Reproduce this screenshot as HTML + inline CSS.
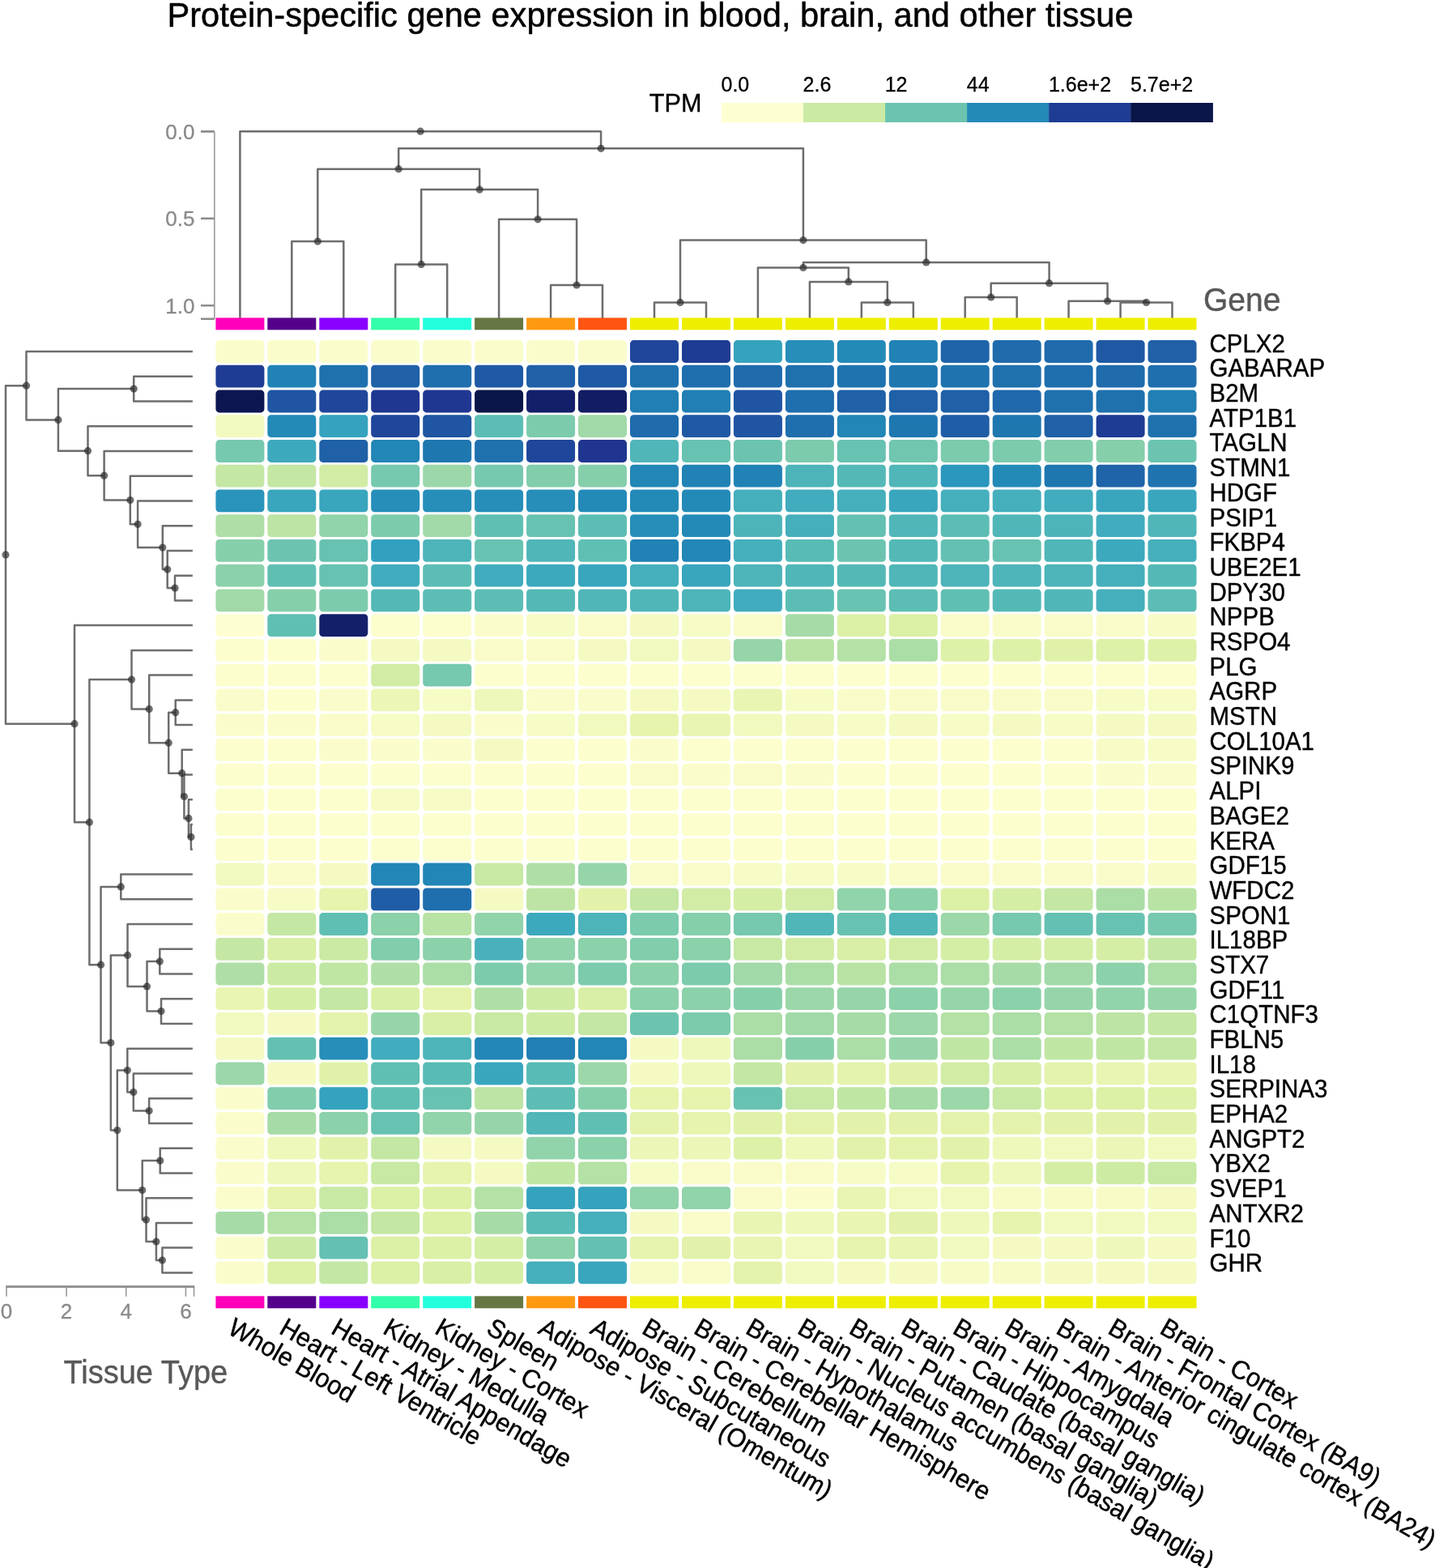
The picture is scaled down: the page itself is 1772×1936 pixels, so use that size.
<!DOCTYPE html><html><head><meta charset="utf-8"><title>Protein-specific gene expression</title><style>
html,body{margin:0;padding:0;background:#fff;width:1772px;height:1936px;overflow:hidden}
svg{display:block;font-family:"Liberation Sans",Arial,Helvetica,sans-serif}
.dl{fill:none;stroke:#6d6d6d;stroke-width:2.5;stroke-linecap:square;stroke-linejoin:round}
.ax{fill:none;stroke:#999;stroke-width:1.6}.axh{fill:none;stroke:#8c8c8c;stroke-width:2.6}
.dot{fill:#2a2a2a;fill-opacity:0.68}
.tk{fill:#8a8a8a;font-size:26px;stroke:#8a8a8a;stroke-width:0.3px}
.gl{fill:#000;font-size:29.5px;stroke:#000;stroke-width:0.4px}
.cl{fill:#000;font-size:30.8px;stroke:#000;stroke-width:0.4px}
</style></head><body>
<div id="w"><svg width="1772" height="1936" viewBox="0 0 1772 1936">
<text transform="translate(206.5,32.6) scale(1,1.035)" style="font-size:41.6px;stroke:#000;stroke-width:0.5px" fill="#000">Protein-specific gene expression in blood, brain, and other tissue</text>
<text x="801.8" y="138.3" style="font-size:30.6px;stroke:#000;stroke-width:0.4px" fill="#000">TPM</text>
<rect x="890.8" y="127" width="101.6" height="24" fill="#feffd1"/>
<text x="890.5" y="113.2" style="font-size:25px;stroke:#000;stroke-width:0.3px" fill="#000">0.0</text>
<rect x="991.9" y="127" width="101.6" height="24" fill="#cbeaa4"/>
<text x="991.6" y="113.2" style="font-size:25px;stroke:#000;stroke-width:0.3px" fill="#000">2.6</text>
<rect x="1093.0" y="127" width="101.6" height="24" fill="#6cc4b0"/>
<text x="1092.7" y="113.2" style="font-size:25px;stroke:#000;stroke-width:0.3px" fill="#000">12</text>
<rect x="1194.1" y="127" width="101.6" height="24" fill="#238ab8"/>
<text x="1193.8" y="113.2" style="font-size:25px;stroke:#000;stroke-width:0.3px" fill="#000">44</text>
<rect x="1295.2" y="127" width="101.6" height="24" fill="#1f3c94"/>
<text x="1294.9" y="113.2" style="font-size:25px;stroke:#000;stroke-width:0.3px" fill="#000">1.6e+2</text>
<rect x="1396.3" y="127" width="101.6" height="24" fill="#0a1548"/>
<text x="1396.0" y="113.2" style="font-size:25px;stroke:#000;stroke-width:0.3px" fill="#000">5.7e+2</text>
<path class="ax" d="M264.8,162.4V393.8"/>
<path class="axh" d="M248,162.4H264.8 M248,393.8H264.8 M248,269.8H264.8 M248,377.3H264.8"/>
<text class="tk" x="240.5" y="171.6" text-anchor="end">0.0</text>
<text class="tk" x="240.5" y="279.0" text-anchor="end">0.5</text>
<text class="tk" x="240.5" y="386.5" text-anchor="end">1.0</text>
<path class="dl" d="M1383.6,392.4V373.4H1447.5V392.4 M1319.6,392.4V371.8H1415.5V373.4 M1191.7,392.4V367.0H1255.7V392.4 M1223.7,367.0V349.7H1367.6V371.8 M1063.8,392.4V373.4H1127.8V392.4 M999.9,392.4V347.9H1095.8V373.4 M935.9,392.4V330.5H1047.8V347.9 M991.9,330.5V323.9H1295.6V349.7 M808.0,392.4V373.4H872.0V392.4 M840.0,373.4V296.6H1143.7V323.9 M680.1,392.4V352.0H744.0V392.4 M616.1,392.4V270.8H712.1V352.0 M488.2,392.4V326.4H552.2V392.4 M520.2,326.4V234.1H664.1V270.8 M360.3,392.4V298.1H424.3V392.4 M392.3,298.1V208.7H592.2V234.1 M492.2,208.7V183.3H991.9V296.6 M296.4,392.4V162.2H742.1V183.3"/>
<path class="dl" d="M236.6,710.7H216.0V741.4H236.6 M236.6,679.9H206.7V726.0H216.0 M236.6,649.2H200.8V703.0H206.7 M236.6,618.4H170.1V676.1H200.8 M236.6,587.7H160.8V647.3H170.1 M236.6,557.0H128.6V617.5H160.8 M236.6,526.2H108.5V587.2H128.6 M236.6,464.7H165.2V495.5H236.6 M165.2,480.1H71.9V556.7H108.5 M236.6,434.0H32.5V518.4H71.9 M236.6,1018.1H235.9V1048.8H236.6 M236.6,987.3H232.9V1033.4H235.9 M236.6,956.6H227.4V1010.4H232.9 M236.6,925.8H224.7V983.5H227.4 M236.6,864.4H216.7V895.1H236.6 M216.7,879.7H208.2V954.7H224.7 M236.6,833.6H184.2V917.2H208.2 M236.6,802.9H162.5V875.4H184.2 M236.6,1079.5H149.3V1110.3H236.6 M236.6,1171.8H197.3V1202.5H236.6 M236.6,1233.2H199.0V1264.0H236.6 M197.3,1187.1H181.5V1248.6H199.0 M236.6,1141.0H157.5V1217.9H181.5 M236.6,1356.2H184.1V1386.9H236.6 M236.6,1325.5H164.8V1371.6H184.1 M236.6,1294.7H157.3V1348.5H164.8 M236.6,1417.7H197.7V1448.4H236.6 M236.6,1540.6H200.4V1571.4H236.6 M236.6,1509.9H192.9V1556.0H200.4 M236.6,1479.2H180.5V1533.0H192.9 M197.7,1433.1H175.7V1506.1H180.5 M157.3,1321.6H144.8V1469.6H175.7 M157.5,1179.4H136.8V1395.6H144.8 M149.3,1094.9H124.5V1287.5H136.8 M162.5,839.1H110.4V1191.2H124.5 M236.6,772.1H92.0V1015.2H110.4 M32.5,476.2H7.0V893.7H92.0"/>
<circle class="dot" cx="1415.5" cy="373.4" r="4.6"/>
<circle class="dot" cx="1367.6" cy="371.8" r="4.6"/>
<circle class="dot" cx="1223.7" cy="367.0" r="4.6"/>
<circle class="dot" cx="1295.6" cy="349.7" r="4.6"/>
<circle class="dot" cx="1095.8" cy="373.4" r="4.6"/>
<circle class="dot" cx="1047.8" cy="347.9" r="4.6"/>
<circle class="dot" cx="991.9" cy="330.5" r="4.6"/>
<circle class="dot" cx="1143.7" cy="323.9" r="4.6"/>
<circle class="dot" cx="840.0" cy="373.4" r="4.6"/>
<circle class="dot" cx="991.9" cy="296.6" r="4.6"/>
<circle class="dot" cx="712.1" cy="352.0" r="4.6"/>
<circle class="dot" cx="664.1" cy="270.8" r="4.6"/>
<circle class="dot" cx="520.2" cy="326.4" r="4.6"/>
<circle class="dot" cx="592.2" cy="234.1" r="4.6"/>
<circle class="dot" cx="392.3" cy="298.1" r="4.6"/>
<circle class="dot" cx="492.2" cy="208.7" r="4.6"/>
<circle class="dot" cx="742.1" cy="183.3" r="4.6"/>
<circle class="dot" cx="519.2" cy="162.2" r="4.6"/>
<circle class="dot" cx="216.0" cy="726.0" r="4.6"/>
<circle class="dot" cx="206.7" cy="703.0" r="4.6"/>
<circle class="dot" cx="200.8" cy="676.1" r="4.6"/>
<circle class="dot" cx="170.1" cy="647.3" r="4.6"/>
<circle class="dot" cx="160.8" cy="617.5" r="4.6"/>
<circle class="dot" cx="128.6" cy="587.2" r="4.6"/>
<circle class="dot" cx="108.5" cy="556.7" r="4.6"/>
<circle class="dot" cx="165.2" cy="480.1" r="4.6"/>
<circle class="dot" cx="71.9" cy="518.4" r="4.6"/>
<circle class="dot" cx="32.5" cy="476.2" r="4.6"/>
<circle class="dot" cx="235.9" cy="1033.4" r="4.6"/>
<circle class="dot" cx="232.9" cy="1010.4" r="4.6"/>
<circle class="dot" cx="227.4" cy="983.5" r="4.6"/>
<circle class="dot" cx="224.7" cy="954.7" r="4.6"/>
<circle class="dot" cx="216.7" cy="879.7" r="4.6"/>
<circle class="dot" cx="208.2" cy="917.2" r="4.6"/>
<circle class="dot" cx="184.2" cy="875.4" r="4.6"/>
<circle class="dot" cx="162.5" cy="839.1" r="4.6"/>
<circle class="dot" cx="149.3" cy="1094.9" r="4.6"/>
<circle class="dot" cx="197.3" cy="1187.1" r="4.6"/>
<circle class="dot" cx="199.0" cy="1248.6" r="4.6"/>
<circle class="dot" cx="181.5" cy="1217.9" r="4.6"/>
<circle class="dot" cx="157.5" cy="1179.4" r="4.6"/>
<circle class="dot" cx="184.1" cy="1371.6" r="4.6"/>
<circle class="dot" cx="164.8" cy="1348.5" r="4.6"/>
<circle class="dot" cx="157.3" cy="1321.6" r="4.6"/>
<circle class="dot" cx="197.7" cy="1433.1" r="4.6"/>
<circle class="dot" cx="200.4" cy="1556.0" r="4.6"/>
<circle class="dot" cx="192.9" cy="1533.0" r="4.6"/>
<circle class="dot" cx="180.5" cy="1506.1" r="4.6"/>
<circle class="dot" cx="175.7" cy="1469.6" r="4.6"/>
<circle class="dot" cx="144.8" cy="1395.6" r="4.6"/>
<circle class="dot" cx="136.8" cy="1287.5" r="4.6"/>
<circle class="dot" cx="124.5" cy="1191.2" r="4.6"/>
<circle class="dot" cx="110.4" cy="1015.2" r="4.6"/>
<circle class="dot" cx="92.0" cy="893.7" r="4.6"/>
<circle class="dot" cx="7.0" cy="684.9" r="4.6"/>
<path class="ax" d="M8,1600.8V1588.5 M239.5,1588.5V1600.8 M82.1,1588.5V1600.8 M155.7,1588.5V1600.8 M229.4,1588.5V1600.8"/>
<path class="axh" d="M7.2,1588.6H240.3"/>
<text class="tk" x="8" y="1628" text-anchor="middle">0</text>
<text class="tk" x="82.1" y="1628" text-anchor="middle">2</text>
<text class="tk" x="155.7" y="1628" text-anchor="middle">4</text>
<text class="tk" x="229.4" y="1628" text-anchor="middle">6</text>
<text transform="translate(1486,383.7) scale(1,1.06)" style="font-size:39px;stroke:#58585a;stroke-width:0.4px" fill="#58585a">Gene</text>
<text transform="translate(78.5,1708) scale(1,1.05)" style="font-size:38px;stroke:#58585a;stroke-width:0.4px" fill="#58585a">Tissue Type</text>
<rect x="266.4" y="392.4" width="60.0" height="14.9" fill="#FF00BB"/>
<rect x="266.4" y="1600.3" width="60.0" height="15" fill="#FF00BB"/>
<rect x="330.3" y="392.4" width="60.0" height="14.9" fill="#55008A"/>
<rect x="330.3" y="1600.3" width="60.0" height="15" fill="#55008A"/>
<rect x="394.3" y="392.4" width="60.0" height="14.9" fill="#8800FF"/>
<rect x="394.3" y="1600.3" width="60.0" height="15" fill="#8800FF"/>
<rect x="458.2" y="392.4" width="60.0" height="14.9" fill="#33FFAA"/>
<rect x="458.2" y="1600.3" width="60.0" height="15" fill="#33FFAA"/>
<rect x="522.2" y="392.4" width="60.0" height="14.9" fill="#22FFDD"/>
<rect x="522.2" y="1600.3" width="60.0" height="15" fill="#22FFDD"/>
<rect x="586.1" y="392.4" width="60.0" height="14.9" fill="#667744"/>
<rect x="586.1" y="1600.3" width="60.0" height="15" fill="#667744"/>
<rect x="650.1" y="392.4" width="60.0" height="14.9" fill="#FF9911"/>
<rect x="650.1" y="1600.3" width="60.0" height="15" fill="#FF9911"/>
<rect x="714.0" y="392.4" width="60.0" height="14.9" fill="#FF5511"/>
<rect x="714.0" y="1600.3" width="60.0" height="15" fill="#FF5511"/>
<rect x="778.0" y="392.4" width="60.0" height="14.9" fill="#EEEE00"/>
<rect x="778.0" y="1600.3" width="60.0" height="15" fill="#EEEE00"/>
<rect x="842.0" y="392.4" width="60.0" height="14.9" fill="#EEEE00"/>
<rect x="842.0" y="1600.3" width="60.0" height="15" fill="#EEEE00"/>
<rect x="905.9" y="392.4" width="60.0" height="14.9" fill="#EEEE00"/>
<rect x="905.9" y="1600.3" width="60.0" height="15" fill="#EEEE00"/>
<rect x="969.9" y="392.4" width="60.0" height="14.9" fill="#EEEE00"/>
<rect x="969.9" y="1600.3" width="60.0" height="15" fill="#EEEE00"/>
<rect x="1033.8" y="392.4" width="60.0" height="14.9" fill="#EEEE00"/>
<rect x="1033.8" y="1600.3" width="60.0" height="15" fill="#EEEE00"/>
<rect x="1097.8" y="392.4" width="60.0" height="14.9" fill="#EEEE00"/>
<rect x="1097.8" y="1600.3" width="60.0" height="15" fill="#EEEE00"/>
<rect x="1161.7" y="392.4" width="60.0" height="14.9" fill="#EEEE00"/>
<rect x="1161.7" y="1600.3" width="60.0" height="15" fill="#EEEE00"/>
<rect x="1225.7" y="392.4" width="60.0" height="14.9" fill="#EEEE00"/>
<rect x="1225.7" y="1600.3" width="60.0" height="15" fill="#EEEE00"/>
<rect x="1289.6" y="392.4" width="60.0" height="14.9" fill="#EEEE00"/>
<rect x="1289.6" y="1600.3" width="60.0" height="15" fill="#EEEE00"/>
<rect x="1353.6" y="392.4" width="60.0" height="14.9" fill="#EEEE00"/>
<rect x="1353.6" y="1600.3" width="60.0" height="15" fill="#EEEE00"/>
<rect x="1417.5" y="392.4" width="60.0" height="14.9" fill="#EEEE00"/>
<rect x="1417.5" y="1600.3" width="60.0" height="15" fill="#EEEE00"/>
<rect x="266.4" y="420.1" width="60.0" height="27.8" rx="4.5" fill="#fafdcb"/>
<rect x="330.3" y="420.1" width="60.0" height="27.8" rx="4.5" fill="#fafdcb"/>
<rect x="394.3" y="420.1" width="60.0" height="27.8" rx="4.5" fill="#fafdcb"/>
<rect x="458.2" y="420.1" width="60.0" height="27.8" rx="4.5" fill="#fafdcb"/>
<rect x="522.2" y="420.1" width="60.0" height="27.8" rx="4.5" fill="#fafdcb"/>
<rect x="586.1" y="420.1" width="60.0" height="27.8" rx="4.5" fill="#fafdcb"/>
<rect x="650.1" y="420.1" width="60.0" height="27.8" rx="4.5" fill="#fafdcb"/>
<rect x="714.0" y="420.1" width="60.0" height="27.8" rx="4.5" fill="#fafdcb"/>
<rect x="778.0" y="420.1" width="60.0" height="27.8" rx="4.5" fill="#1f469a"/>
<rect x="842.0" y="420.1" width="60.0" height="27.8" rx="4.5" fill="#1f3c94"/>
<rect x="905.9" y="420.1" width="60.0" height="27.8" rx="4.5" fill="#35a3be"/>
<rect x="969.9" y="420.1" width="60.0" height="27.8" rx="4.5" fill="#268eb9"/>
<rect x="1033.8" y="420.1" width="60.0" height="27.8" rx="4.5" fill="#238ab8"/>
<rect x="1097.8" y="420.1" width="60.0" height="27.8" rx="4.5" fill="#2182b5"/>
<rect x="1161.7" y="420.1" width="60.0" height="27.8" rx="4.5" fill="#1f64a9"/>
<rect x="1225.7" y="420.1" width="60.0" height="27.8" rx="4.5" fill="#1f6bac"/>
<rect x="1289.6" y="420.1" width="60.0" height="27.8" rx="4.5" fill="#1f6bac"/>
<rect x="1353.6" y="420.1" width="60.0" height="27.8" rx="4.5" fill="#1f59a4"/>
<rect x="1417.5" y="420.1" width="60.0" height="27.8" rx="4.5" fill="#1f60a7"/>
<text class="gl" transform="translate(1493.5,434.70) scale(1,1.045)">CPLX2</text>
<rect x="266.4" y="450.8" width="60.0" height="27.8" rx="4.5" fill="#1f3c94"/>
<rect x="330.3" y="450.8" width="60.0" height="27.8" rx="4.5" fill="#2182b5"/>
<rect x="394.3" y="450.8" width="60.0" height="27.8" rx="4.5" fill="#1f71ae"/>
<rect x="458.2" y="450.8" width="60.0" height="27.8" rx="4.5" fill="#1f60a7"/>
<rect x="522.2" y="450.8" width="60.0" height="27.8" rx="4.5" fill="#1f6ead"/>
<rect x="586.1" y="450.8" width="60.0" height="27.8" rx="4.5" fill="#1f59a4"/>
<rect x="650.1" y="450.8" width="60.0" height="27.8" rx="4.5" fill="#1f60a7"/>
<rect x="714.0" y="450.8" width="60.0" height="27.8" rx="4.5" fill="#1f59a4"/>
<rect x="778.0" y="450.8" width="60.0" height="27.8" rx="4.5" fill="#1f71ae"/>
<rect x="842.0" y="450.8" width="60.0" height="27.8" rx="4.5" fill="#1f6ead"/>
<rect x="905.9" y="450.8" width="60.0" height="27.8" rx="4.5" fill="#1f6bac"/>
<rect x="969.9" y="450.8" width="60.0" height="27.8" rx="4.5" fill="#1f71ae"/>
<rect x="1033.8" y="450.8" width="60.0" height="27.8" rx="4.5" fill="#1f74af"/>
<rect x="1097.8" y="450.8" width="60.0" height="27.8" rx="4.5" fill="#1f77b0"/>
<rect x="1161.7" y="450.8" width="60.0" height="27.8" rx="4.5" fill="#1f74af"/>
<rect x="1225.7" y="450.8" width="60.0" height="27.8" rx="4.5" fill="#1f71ae"/>
<rect x="1289.6" y="450.8" width="60.0" height="27.8" rx="4.5" fill="#1f6ead"/>
<rect x="1353.6" y="450.8" width="60.0" height="27.8" rx="4.5" fill="#1f6bac"/>
<rect x="1417.5" y="450.8" width="60.0" height="27.8" rx="4.5" fill="#1f6ead"/>
<text class="gl" transform="translate(1493.5,465.39) scale(1,1.045)">GABARAP</text>
<rect x="266.4" y="481.6" width="60.0" height="27.8" rx="4.5" fill="#0c1751"/>
<rect x="330.3" y="481.6" width="60.0" height="27.8" rx="4.5" fill="#1f55a2"/>
<rect x="394.3" y="481.6" width="60.0" height="27.8" rx="4.5" fill="#1f469a"/>
<rect x="458.2" y="481.6" width="60.0" height="27.8" rx="4.5" fill="#1f3791"/>
<rect x="522.2" y="481.6" width="60.0" height="27.8" rx="4.5" fill="#1f3791"/>
<rect x="586.1" y="481.6" width="60.0" height="27.8" rx="4.5" fill="#0a1548"/>
<rect x="650.1" y="481.6" width="60.0" height="27.8" rx="4.5" fill="#141f6a"/>
<rect x="714.0" y="481.6" width="60.0" height="27.8" rx="4.5" fill="#111c62"/>
<rect x="778.0" y="481.6" width="60.0" height="27.8" rx="4.5" fill="#217fb3"/>
<rect x="842.0" y="481.6" width="60.0" height="27.8" rx="4.5" fill="#217fb3"/>
<rect x="905.9" y="481.6" width="60.0" height="27.8" rx="4.5" fill="#1f55a2"/>
<rect x="969.9" y="481.6" width="60.0" height="27.8" rx="4.5" fill="#1f6ead"/>
<rect x="1033.8" y="481.6" width="60.0" height="27.8" rx="4.5" fill="#1f60a7"/>
<rect x="1097.8" y="481.6" width="60.0" height="27.8" rx="4.5" fill="#1f60a7"/>
<rect x="1161.7" y="481.6" width="60.0" height="27.8" rx="4.5" fill="#1f60a7"/>
<rect x="1225.7" y="481.6" width="60.0" height="27.8" rx="4.5" fill="#1f68ab"/>
<rect x="1289.6" y="481.6" width="60.0" height="27.8" rx="4.5" fill="#1f71ae"/>
<rect x="1353.6" y="481.6" width="60.0" height="27.8" rx="4.5" fill="#1f71ae"/>
<rect x="1417.5" y="481.6" width="60.0" height="27.8" rx="4.5" fill="#217fb3"/>
<text class="gl" transform="translate(1493.5,496.08) scale(1,1.045)">B2M</text>
<rect x="266.4" y="512.3" width="60.0" height="27.8" rx="4.5" fill="#f2f9bf"/>
<rect x="330.3" y="512.3" width="60.0" height="27.8" rx="4.5" fill="#238ab8"/>
<rect x="394.3" y="512.3" width="60.0" height="27.8" rx="4.5" fill="#35a3be"/>
<rect x="458.2" y="512.3" width="60.0" height="27.8" rx="4.5" fill="#1f469a"/>
<rect x="522.2" y="512.3" width="60.0" height="27.8" rx="4.5" fill="#1f55a2"/>
<rect x="586.1" y="512.3" width="60.0" height="27.8" rx="4.5" fill="#5cbdb4"/>
<rect x="650.1" y="512.3" width="60.0" height="27.8" rx="4.5" fill="#7ccbad"/>
<rect x="714.0" y="512.3" width="60.0" height="27.8" rx="4.5" fill="#a1d9a8"/>
<rect x="778.0" y="512.3" width="60.0" height="27.8" rx="4.5" fill="#1f6bac"/>
<rect x="842.0" y="512.3" width="60.0" height="27.8" rx="4.5" fill="#1f59a4"/>
<rect x="905.9" y="512.3" width="60.0" height="27.8" rx="4.5" fill="#1f55a2"/>
<rect x="969.9" y="512.3" width="60.0" height="27.8" rx="4.5" fill="#1f6ead"/>
<rect x="1033.8" y="512.3" width="60.0" height="27.8" rx="4.5" fill="#2286b6"/>
<rect x="1097.8" y="512.3" width="60.0" height="27.8" rx="4.5" fill="#1f77b0"/>
<rect x="1161.7" y="512.3" width="60.0" height="27.8" rx="4.5" fill="#1f5da6"/>
<rect x="1225.7" y="512.3" width="60.0" height="27.8" rx="4.5" fill="#1f77b0"/>
<rect x="1289.6" y="512.3" width="60.0" height="27.8" rx="4.5" fill="#1f60a7"/>
<rect x="1353.6" y="512.3" width="60.0" height="27.8" rx="4.5" fill="#1f3c94"/>
<rect x="1417.5" y="512.3" width="60.0" height="27.8" rx="4.5" fill="#1f71ae"/>
<text class="gl" transform="translate(1493.5,526.77) scale(1,1.045)">ATP1B1</text>
<rect x="266.4" y="543.1" width="60.0" height="27.8" rx="4.5" fill="#76c8ae"/>
<rect x="330.3" y="543.1" width="60.0" height="27.8" rx="4.5" fill="#3da9bd"/>
<rect x="394.3" y="543.1" width="60.0" height="27.8" rx="4.5" fill="#1f60a7"/>
<rect x="458.2" y="543.1" width="60.0" height="27.8" rx="4.5" fill="#2286b6"/>
<rect x="522.2" y="543.1" width="60.0" height="27.8" rx="4.5" fill="#1f77b0"/>
<rect x="586.1" y="543.1" width="60.0" height="27.8" rx="4.5" fill="#1f71ae"/>
<rect x="650.1" y="543.1" width="60.0" height="27.8" rx="4.5" fill="#1f469a"/>
<rect x="714.0" y="543.1" width="60.0" height="27.8" rx="4.5" fill="#20358f"/>
<rect x="778.0" y="543.1" width="60.0" height="27.8" rx="4.5" fill="#50b6b8"/>
<rect x="842.0" y="543.1" width="60.0" height="27.8" rx="4.5" fill="#68c2b1"/>
<rect x="905.9" y="543.1" width="60.0" height="27.8" rx="4.5" fill="#6cc4b0"/>
<rect x="969.9" y="543.1" width="60.0" height="27.8" rx="4.5" fill="#7ccbad"/>
<rect x="1033.8" y="543.1" width="60.0" height="27.8" rx="4.5" fill="#68c2b1"/>
<rect x="1097.8" y="543.1" width="60.0" height="27.8" rx="4.5" fill="#71c6af"/>
<rect x="1161.7" y="543.1" width="60.0" height="27.8" rx="4.5" fill="#7ccbad"/>
<rect x="1225.7" y="543.1" width="60.0" height="27.8" rx="4.5" fill="#7ccbad"/>
<rect x="1289.6" y="543.1" width="60.0" height="27.8" rx="4.5" fill="#81cdac"/>
<rect x="1353.6" y="543.1" width="60.0" height="27.8" rx="4.5" fill="#86cfab"/>
<rect x="1417.5" y="543.1" width="60.0" height="27.8" rx="4.5" fill="#6cc4b0"/>
<text class="gl" transform="translate(1493.5,557.46) scale(1,1.045)">TAGLN</text>
<rect x="266.4" y="573.8" width="60.0" height="27.8" rx="4.5" fill="#c4e7a4"/>
<rect x="330.3" y="573.8" width="60.0" height="27.8" rx="4.5" fill="#c4e7a4"/>
<rect x="394.3" y="573.8" width="60.0" height="27.8" rx="4.5" fill="#d2eca5"/>
<rect x="458.2" y="573.8" width="60.0" height="27.8" rx="4.5" fill="#76c8ae"/>
<rect x="522.2" y="573.8" width="60.0" height="27.8" rx="4.5" fill="#9cd7a9"/>
<rect x="586.1" y="573.8" width="60.0" height="27.8" rx="4.5" fill="#76c8ae"/>
<rect x="650.1" y="573.8" width="60.0" height="27.8" rx="4.5" fill="#81cdac"/>
<rect x="714.0" y="573.8" width="60.0" height="27.8" rx="4.5" fill="#86cfab"/>
<rect x="778.0" y="573.8" width="60.0" height="27.8" rx="4.5" fill="#2286b6"/>
<rect x="842.0" y="573.8" width="60.0" height="27.8" rx="4.5" fill="#2182b5"/>
<rect x="905.9" y="573.8" width="60.0" height="27.8" rx="4.5" fill="#2182b5"/>
<rect x="969.9" y="573.8" width="60.0" height="27.8" rx="4.5" fill="#4db4b9"/>
<rect x="1033.8" y="573.8" width="60.0" height="27.8" rx="4.5" fill="#54b9b6"/>
<rect x="1097.8" y="573.8" width="60.0" height="27.8" rx="4.5" fill="#50b6b8"/>
<rect x="1161.7" y="573.8" width="60.0" height="27.8" rx="4.5" fill="#2b97bc"/>
<rect x="1225.7" y="573.8" width="60.0" height="27.8" rx="4.5" fill="#238ab8"/>
<rect x="1289.6" y="573.8" width="60.0" height="27.8" rx="4.5" fill="#1f77b0"/>
<rect x="1353.6" y="573.8" width="60.0" height="27.8" rx="4.5" fill="#1f64a9"/>
<rect x="1417.5" y="573.8" width="60.0" height="27.8" rx="4.5" fill="#1f74af"/>
<text class="gl" transform="translate(1493.5,588.15) scale(1,1.045)">STMN1</text>
<rect x="266.4" y="604.5" width="60.0" height="27.8" rx="4.5" fill="#2993bb"/>
<rect x="330.3" y="604.5" width="60.0" height="27.8" rx="4.5" fill="#39a6be"/>
<rect x="394.3" y="604.5" width="60.0" height="27.8" rx="4.5" fill="#39a6be"/>
<rect x="458.2" y="604.5" width="60.0" height="27.8" rx="4.5" fill="#268eb9"/>
<rect x="522.2" y="604.5" width="60.0" height="27.8" rx="4.5" fill="#268eb9"/>
<rect x="586.1" y="604.5" width="60.0" height="27.8" rx="4.5" fill="#268eb9"/>
<rect x="650.1" y="604.5" width="60.0" height="27.8" rx="4.5" fill="#268eb9"/>
<rect x="714.0" y="604.5" width="60.0" height="27.8" rx="4.5" fill="#238ab8"/>
<rect x="778.0" y="604.5" width="60.0" height="27.8" rx="4.5" fill="#238ab8"/>
<rect x="842.0" y="604.5" width="60.0" height="27.8" rx="4.5" fill="#238ab8"/>
<rect x="905.9" y="604.5" width="60.0" height="27.8" rx="4.5" fill="#45afbc"/>
<rect x="969.9" y="604.5" width="60.0" height="27.8" rx="4.5" fill="#41acbd"/>
<rect x="1033.8" y="604.5" width="60.0" height="27.8" rx="4.5" fill="#45afbc"/>
<rect x="1097.8" y="604.5" width="60.0" height="27.8" rx="4.5" fill="#39a6be"/>
<rect x="1161.7" y="604.5" width="60.0" height="27.8" rx="4.5" fill="#45afbc"/>
<rect x="1225.7" y="604.5" width="60.0" height="27.8" rx="4.5" fill="#45afbc"/>
<rect x="1289.6" y="604.5" width="60.0" height="27.8" rx="4.5" fill="#41acbd"/>
<rect x="1353.6" y="604.5" width="60.0" height="27.8" rx="4.5" fill="#39a6be"/>
<rect x="1417.5" y="604.5" width="60.0" height="27.8" rx="4.5" fill="#39a6be"/>
<text class="gl" transform="translate(1493.5,618.84) scale(1,1.045)">HDGF</text>
<rect x="266.4" y="635.3" width="60.0" height="27.8" rx="4.5" fill="#afdfa6"/>
<rect x="330.3" y="635.3" width="60.0" height="27.8" rx="4.5" fill="#bde4a4"/>
<rect x="394.3" y="635.3" width="60.0" height="27.8" rx="4.5" fill="#91d3aa"/>
<rect x="458.2" y="635.3" width="60.0" height="27.8" rx="4.5" fill="#7ccbad"/>
<rect x="522.2" y="635.3" width="60.0" height="27.8" rx="4.5" fill="#a1d9a8"/>
<rect x="586.1" y="635.3" width="60.0" height="27.8" rx="4.5" fill="#60bfb3"/>
<rect x="650.1" y="635.3" width="60.0" height="27.8" rx="4.5" fill="#68c2b1"/>
<rect x="714.0" y="635.3" width="60.0" height="27.8" rx="4.5" fill="#5cbdb4"/>
<rect x="778.0" y="635.3" width="60.0" height="27.8" rx="4.5" fill="#268eb9"/>
<rect x="842.0" y="635.3" width="60.0" height="27.8" rx="4.5" fill="#238ab8"/>
<rect x="905.9" y="635.3" width="60.0" height="27.8" rx="4.5" fill="#4db4b9"/>
<rect x="969.9" y="635.3" width="60.0" height="27.8" rx="4.5" fill="#45afbc"/>
<rect x="1033.8" y="635.3" width="60.0" height="27.8" rx="4.5" fill="#64c0b2"/>
<rect x="1097.8" y="635.3" width="60.0" height="27.8" rx="4.5" fill="#50b6b8"/>
<rect x="1161.7" y="635.3" width="60.0" height="27.8" rx="4.5" fill="#5cbdb4"/>
<rect x="1225.7" y="635.3" width="60.0" height="27.8" rx="4.5" fill="#50b6b8"/>
<rect x="1289.6" y="635.3" width="60.0" height="27.8" rx="4.5" fill="#4db4b9"/>
<rect x="1353.6" y="635.3" width="60.0" height="27.8" rx="4.5" fill="#41acbd"/>
<rect x="1417.5" y="635.3" width="60.0" height="27.8" rx="4.5" fill="#50b6b8"/>
<text class="gl" transform="translate(1493.5,649.53) scale(1,1.045)">PSIP1</text>
<rect x="266.4" y="666.0" width="60.0" height="27.8" rx="4.5" fill="#86cfab"/>
<rect x="330.3" y="666.0" width="60.0" height="27.8" rx="4.5" fill="#6cc4b0"/>
<rect x="394.3" y="666.0" width="60.0" height="27.8" rx="4.5" fill="#68c2b1"/>
<rect x="458.2" y="666.0" width="60.0" height="27.8" rx="4.5" fill="#31a0bf"/>
<rect x="522.2" y="666.0" width="60.0" height="27.8" rx="4.5" fill="#4db4b9"/>
<rect x="586.1" y="666.0" width="60.0" height="27.8" rx="4.5" fill="#68c2b1"/>
<rect x="650.1" y="666.0" width="60.0" height="27.8" rx="4.5" fill="#50b6b8"/>
<rect x="714.0" y="666.0" width="60.0" height="27.8" rx="4.5" fill="#60bfb3"/>
<rect x="778.0" y="666.0" width="60.0" height="27.8" rx="4.5" fill="#2182b5"/>
<rect x="842.0" y="666.0" width="60.0" height="27.8" rx="4.5" fill="#2286b6"/>
<rect x="905.9" y="666.0" width="60.0" height="27.8" rx="4.5" fill="#45afbc"/>
<rect x="969.9" y="666.0" width="60.0" height="27.8" rx="4.5" fill="#58bbb5"/>
<rect x="1033.8" y="666.0" width="60.0" height="27.8" rx="4.5" fill="#6cc4b0"/>
<rect x="1097.8" y="666.0" width="60.0" height="27.8" rx="4.5" fill="#54b9b6"/>
<rect x="1161.7" y="666.0" width="60.0" height="27.8" rx="4.5" fill="#64c0b2"/>
<rect x="1225.7" y="666.0" width="60.0" height="27.8" rx="4.5" fill="#68c2b1"/>
<rect x="1289.6" y="666.0" width="60.0" height="27.8" rx="4.5" fill="#50b6b8"/>
<rect x="1353.6" y="666.0" width="60.0" height="27.8" rx="4.5" fill="#3da9bd"/>
<rect x="1417.5" y="666.0" width="60.0" height="27.8" rx="4.5" fill="#45afbc"/>
<text class="gl" transform="translate(1493.5,680.22) scale(1,1.045)">FKBP4</text>
<rect x="266.4" y="696.8" width="60.0" height="27.8" rx="4.5" fill="#8bd1aa"/>
<rect x="330.3" y="696.8" width="60.0" height="27.8" rx="4.5" fill="#60bfb3"/>
<rect x="394.3" y="696.8" width="60.0" height="27.8" rx="4.5" fill="#68c2b1"/>
<rect x="458.2" y="696.8" width="60.0" height="27.8" rx="4.5" fill="#41acbd"/>
<rect x="522.2" y="696.8" width="60.0" height="27.8" rx="4.5" fill="#5cbdb4"/>
<rect x="586.1" y="696.8" width="60.0" height="27.8" rx="4.5" fill="#41acbd"/>
<rect x="650.1" y="696.8" width="60.0" height="27.8" rx="4.5" fill="#3da9bd"/>
<rect x="714.0" y="696.8" width="60.0" height="27.8" rx="4.5" fill="#39a6be"/>
<rect x="778.0" y="696.8" width="60.0" height="27.8" rx="4.5" fill="#45afbc"/>
<rect x="842.0" y="696.8" width="60.0" height="27.8" rx="4.5" fill="#39a6be"/>
<rect x="905.9" y="696.8" width="60.0" height="27.8" rx="4.5" fill="#4db4b9"/>
<rect x="969.9" y="696.8" width="60.0" height="27.8" rx="4.5" fill="#50b6b8"/>
<rect x="1033.8" y="696.8" width="60.0" height="27.8" rx="4.5" fill="#54b9b6"/>
<rect x="1097.8" y="696.8" width="60.0" height="27.8" rx="4.5" fill="#50b6b8"/>
<rect x="1161.7" y="696.8" width="60.0" height="27.8" rx="4.5" fill="#4db4b9"/>
<rect x="1225.7" y="696.8" width="60.0" height="27.8" rx="4.5" fill="#4db4b9"/>
<rect x="1289.6" y="696.8" width="60.0" height="27.8" rx="4.5" fill="#4db4b9"/>
<rect x="1353.6" y="696.8" width="60.0" height="27.8" rx="4.5" fill="#45afbc"/>
<rect x="1417.5" y="696.8" width="60.0" height="27.8" rx="4.5" fill="#54b9b6"/>
<text class="gl" transform="translate(1493.5,710.91) scale(1,1.045)">UBE2E1</text>
<rect x="266.4" y="727.5" width="60.0" height="27.8" rx="4.5" fill="#a1d9a8"/>
<rect x="330.3" y="727.5" width="60.0" height="27.8" rx="4.5" fill="#86cfab"/>
<rect x="394.3" y="727.5" width="60.0" height="27.8" rx="4.5" fill="#7ccbad"/>
<rect x="458.2" y="727.5" width="60.0" height="27.8" rx="4.5" fill="#54b9b6"/>
<rect x="522.2" y="727.5" width="60.0" height="27.8" rx="4.5" fill="#5cbdb4"/>
<rect x="586.1" y="727.5" width="60.0" height="27.8" rx="4.5" fill="#5cbdb4"/>
<rect x="650.1" y="727.5" width="60.0" height="27.8" rx="4.5" fill="#54b9b6"/>
<rect x="714.0" y="727.5" width="60.0" height="27.8" rx="4.5" fill="#50b6b8"/>
<rect x="778.0" y="727.5" width="60.0" height="27.8" rx="4.5" fill="#50b6b8"/>
<rect x="842.0" y="727.5" width="60.0" height="27.8" rx="4.5" fill="#4db4b9"/>
<rect x="905.9" y="727.5" width="60.0" height="27.8" rx="4.5" fill="#41acbd"/>
<rect x="969.9" y="727.5" width="60.0" height="27.8" rx="4.5" fill="#5cbdb4"/>
<rect x="1033.8" y="727.5" width="60.0" height="27.8" rx="4.5" fill="#68c2b1"/>
<rect x="1097.8" y="727.5" width="60.0" height="27.8" rx="4.5" fill="#5cbdb4"/>
<rect x="1161.7" y="727.5" width="60.0" height="27.8" rx="4.5" fill="#60bfb3"/>
<rect x="1225.7" y="727.5" width="60.0" height="27.8" rx="4.5" fill="#54b9b6"/>
<rect x="1289.6" y="727.5" width="60.0" height="27.8" rx="4.5" fill="#50b6b8"/>
<rect x="1353.6" y="727.5" width="60.0" height="27.8" rx="4.5" fill="#45afbc"/>
<rect x="1417.5" y="727.5" width="60.0" height="27.8" rx="4.5" fill="#5cbdb4"/>
<text class="gl" transform="translate(1493.5,741.60) scale(1,1.045)">DPY30</text>
<rect x="266.4" y="758.2" width="60.0" height="27.8" rx="4.5" fill="#feffd1"/>
<rect x="330.3" y="758.2" width="60.0" height="27.8" rx="4.5" fill="#60bfb3"/>
<rect x="394.3" y="758.2" width="60.0" height="27.8" rx="4.5" fill="#141f6a"/>
<rect x="458.2" y="758.2" width="60.0" height="27.8" rx="4.5" fill="#fcfece"/>
<rect x="522.2" y="758.2" width="60.0" height="27.8" rx="4.5" fill="#fcfece"/>
<rect x="586.1" y="758.2" width="60.0" height="27.8" rx="4.5" fill="#fafdcb"/>
<rect x="650.1" y="758.2" width="60.0" height="27.8" rx="4.5" fill="#f7fbc6"/>
<rect x="714.0" y="758.2" width="60.0" height="27.8" rx="4.5" fill="#f9fcc9"/>
<rect x="778.0" y="758.2" width="60.0" height="27.8" rx="4.5" fill="#f5fac3"/>
<rect x="842.0" y="758.2" width="60.0" height="27.8" rx="4.5" fill="#f7fbc6"/>
<rect x="905.9" y="758.2" width="60.0" height="27.8" rx="4.5" fill="#f9fcc9"/>
<rect x="969.9" y="758.2" width="60.0" height="27.8" rx="4.5" fill="#a6dba7"/>
<rect x="1033.8" y="758.2" width="60.0" height="27.8" rx="4.5" fill="#dcf0a6"/>
<rect x="1097.8" y="758.2" width="60.0" height="27.8" rx="4.5" fill="#dcf0a6"/>
<rect x="1161.7" y="758.2" width="60.0" height="27.8" rx="4.5" fill="#f9fcc9"/>
<rect x="1225.7" y="758.2" width="60.0" height="27.8" rx="4.5" fill="#f9fcc9"/>
<rect x="1289.6" y="758.2" width="60.0" height="27.8" rx="4.5" fill="#f9fcc9"/>
<rect x="1353.6" y="758.2" width="60.0" height="27.8" rx="4.5" fill="#f9fcc9"/>
<rect x="1417.5" y="758.2" width="60.0" height="27.8" rx="4.5" fill="#f7fbc6"/>
<text class="gl" transform="translate(1493.5,772.29) scale(1,1.045)">NPPB</text>
<rect x="266.4" y="789.0" width="60.0" height="27.8" rx="4.5" fill="#fcfece"/>
<rect x="330.3" y="789.0" width="60.0" height="27.8" rx="4.5" fill="#fcfece"/>
<rect x="394.3" y="789.0" width="60.0" height="27.8" rx="4.5" fill="#fafdcb"/>
<rect x="458.2" y="789.0" width="60.0" height="27.8" rx="4.5" fill="#f5fac3"/>
<rect x="522.2" y="789.0" width="60.0" height="27.8" rx="4.5" fill="#f5fac3"/>
<rect x="586.1" y="789.0" width="60.0" height="27.8" rx="4.5" fill="#f9fcc9"/>
<rect x="650.1" y="789.0" width="60.0" height="27.8" rx="4.5" fill="#f9fcc9"/>
<rect x="714.0" y="789.0" width="60.0" height="27.8" rx="4.5" fill="#f5fac3"/>
<rect x="778.0" y="789.0" width="60.0" height="27.8" rx="4.5" fill="#f2f9bf"/>
<rect x="842.0" y="789.0" width="60.0" height="27.8" rx="4.5" fill="#f5fac3"/>
<rect x="905.9" y="789.0" width="60.0" height="27.8" rx="4.5" fill="#96d5a9"/>
<rect x="969.9" y="789.0" width="60.0" height="27.8" rx="4.5" fill="#b9e3a4"/>
<rect x="1033.8" y="789.0" width="60.0" height="27.8" rx="4.5" fill="#b4e1a5"/>
<rect x="1097.8" y="789.0" width="60.0" height="27.8" rx="4.5" fill="#abdda6"/>
<rect x="1161.7" y="789.0" width="60.0" height="27.8" rx="4.5" fill="#def1a8"/>
<rect x="1225.7" y="789.0" width="60.0" height="27.8" rx="4.5" fill="#def1a8"/>
<rect x="1289.6" y="789.0" width="60.0" height="27.8" rx="4.5" fill="#e0f2a9"/>
<rect x="1353.6" y="789.0" width="60.0" height="27.8" rx="4.5" fill="#def1a8"/>
<rect x="1417.5" y="789.0" width="60.0" height="27.8" rx="4.5" fill="#def1a8"/>
<text class="gl" transform="translate(1493.5,802.98) scale(1,1.045)">RSPO4</text>
<rect x="266.4" y="819.7" width="60.0" height="27.8" rx="4.5" fill="#fcfece"/>
<rect x="330.3" y="819.7" width="60.0" height="27.8" rx="4.5" fill="#fcfece"/>
<rect x="394.3" y="819.7" width="60.0" height="27.8" rx="4.5" fill="#fcfece"/>
<rect x="458.2" y="819.7" width="60.0" height="27.8" rx="4.5" fill="#d2eca5"/>
<rect x="522.2" y="819.7" width="60.0" height="27.8" rx="4.5" fill="#76c8ae"/>
<rect x="586.1" y="819.7" width="60.0" height="27.8" rx="4.5" fill="#fcfece"/>
<rect x="650.1" y="819.7" width="60.0" height="27.8" rx="4.5" fill="#fcfece"/>
<rect x="714.0" y="819.7" width="60.0" height="27.8" rx="4.5" fill="#fcfece"/>
<rect x="778.0" y="819.7" width="60.0" height="27.8" rx="4.5" fill="#fcfece"/>
<rect x="842.0" y="819.7" width="60.0" height="27.8" rx="4.5" fill="#fcfece"/>
<rect x="905.9" y="819.7" width="60.0" height="27.8" rx="4.5" fill="#fcfece"/>
<rect x="969.9" y="819.7" width="60.0" height="27.8" rx="4.5" fill="#fcfece"/>
<rect x="1033.8" y="819.7" width="60.0" height="27.8" rx="4.5" fill="#fcfece"/>
<rect x="1097.8" y="819.7" width="60.0" height="27.8" rx="4.5" fill="#fcfece"/>
<rect x="1161.7" y="819.7" width="60.0" height="27.8" rx="4.5" fill="#fcfece"/>
<rect x="1225.7" y="819.7" width="60.0" height="27.8" rx="4.5" fill="#fcfece"/>
<rect x="1289.6" y="819.7" width="60.0" height="27.8" rx="4.5" fill="#fcfece"/>
<rect x="1353.6" y="819.7" width="60.0" height="27.8" rx="4.5" fill="#fcfece"/>
<rect x="1417.5" y="819.7" width="60.0" height="27.8" rx="4.5" fill="#fcfece"/>
<text class="gl" transform="translate(1493.5,833.67) scale(1,1.045)">PLG</text>
<rect x="266.4" y="850.5" width="60.0" height="27.8" rx="4.5" fill="#fafdcb"/>
<rect x="330.3" y="850.5" width="60.0" height="27.8" rx="4.5" fill="#fcfece"/>
<rect x="394.3" y="850.5" width="60.0" height="27.8" rx="4.5" fill="#fafdcb"/>
<rect x="458.2" y="850.5" width="60.0" height="27.8" rx="4.5" fill="#ecf6b6"/>
<rect x="522.2" y="850.5" width="60.0" height="27.8" rx="4.5" fill="#f7fbc6"/>
<rect x="586.1" y="850.5" width="60.0" height="27.8" rx="4.5" fill="#eff8bb"/>
<rect x="650.1" y="850.5" width="60.0" height="27.8" rx="4.5" fill="#fafdcb"/>
<rect x="714.0" y="850.5" width="60.0" height="27.8" rx="4.5" fill="#fafdcb"/>
<rect x="778.0" y="850.5" width="60.0" height="27.8" rx="4.5" fill="#f5fac3"/>
<rect x="842.0" y="850.5" width="60.0" height="27.8" rx="4.5" fill="#f5fac3"/>
<rect x="905.9" y="850.5" width="60.0" height="27.8" rx="4.5" fill="#e9f5b2"/>
<rect x="969.9" y="850.5" width="60.0" height="27.8" rx="4.5" fill="#f7fbc6"/>
<rect x="1033.8" y="850.5" width="60.0" height="27.8" rx="4.5" fill="#f9fcc9"/>
<rect x="1097.8" y="850.5" width="60.0" height="27.8" rx="4.5" fill="#f9fcc9"/>
<rect x="1161.7" y="850.5" width="60.0" height="27.8" rx="4.5" fill="#f9fcc9"/>
<rect x="1225.7" y="850.5" width="60.0" height="27.8" rx="4.5" fill="#f9fcc9"/>
<rect x="1289.6" y="850.5" width="60.0" height="27.8" rx="4.5" fill="#f9fcc9"/>
<rect x="1353.6" y="850.5" width="60.0" height="27.8" rx="4.5" fill="#f7fbc6"/>
<rect x="1417.5" y="850.5" width="60.0" height="27.8" rx="4.5" fill="#f7fbc6"/>
<text class="gl" transform="translate(1493.5,864.36) scale(1,1.045)">AGRP</text>
<rect x="266.4" y="881.2" width="60.0" height="27.8" rx="4.5" fill="#fafdcb"/>
<rect x="330.3" y="881.2" width="60.0" height="27.8" rx="4.5" fill="#fafdcb"/>
<rect x="394.3" y="881.2" width="60.0" height="27.8" rx="4.5" fill="#f9fcc9"/>
<rect x="458.2" y="881.2" width="60.0" height="27.8" rx="4.5" fill="#f7fbc6"/>
<rect x="522.2" y="881.2" width="60.0" height="27.8" rx="4.5" fill="#f5fac3"/>
<rect x="586.1" y="881.2" width="60.0" height="27.8" rx="4.5" fill="#fafdcb"/>
<rect x="650.1" y="881.2" width="60.0" height="27.8" rx="4.5" fill="#f7fbc6"/>
<rect x="714.0" y="881.2" width="60.0" height="27.8" rx="4.5" fill="#f2f9bf"/>
<rect x="778.0" y="881.2" width="60.0" height="27.8" rx="4.5" fill="#e6f4ae"/>
<rect x="842.0" y="881.2" width="60.0" height="27.8" rx="4.5" fill="#e9f5b2"/>
<rect x="905.9" y="881.2" width="60.0" height="27.8" rx="4.5" fill="#f2f9bf"/>
<rect x="969.9" y="881.2" width="60.0" height="27.8" rx="4.5" fill="#f5fac3"/>
<rect x="1033.8" y="881.2" width="60.0" height="27.8" rx="4.5" fill="#f7fbc6"/>
<rect x="1097.8" y="881.2" width="60.0" height="27.8" rx="4.5" fill="#f5fac3"/>
<rect x="1161.7" y="881.2" width="60.0" height="27.8" rx="4.5" fill="#f7fbc6"/>
<rect x="1225.7" y="881.2" width="60.0" height="27.8" rx="4.5" fill="#f5fac3"/>
<rect x="1289.6" y="881.2" width="60.0" height="27.8" rx="4.5" fill="#f7fbc6"/>
<rect x="1353.6" y="881.2" width="60.0" height="27.8" rx="4.5" fill="#f5fac3"/>
<rect x="1417.5" y="881.2" width="60.0" height="27.8" rx="4.5" fill="#f5fac3"/>
<text class="gl" transform="translate(1493.5,895.05) scale(1,1.045)">MSTN</text>
<rect x="266.4" y="911.9" width="60.0" height="27.8" rx="4.5" fill="#fcfece"/>
<rect x="330.3" y="911.9" width="60.0" height="27.8" rx="4.5" fill="#fcfece"/>
<rect x="394.3" y="911.9" width="60.0" height="27.8" rx="4.5" fill="#fafdcb"/>
<rect x="458.2" y="911.9" width="60.0" height="27.8" rx="4.5" fill="#fafdcb"/>
<rect x="522.2" y="911.9" width="60.0" height="27.8" rx="4.5" fill="#fafdcb"/>
<rect x="586.1" y="911.9" width="60.0" height="27.8" rx="4.5" fill="#f5fac3"/>
<rect x="650.1" y="911.9" width="60.0" height="27.8" rx="4.5" fill="#fcfece"/>
<rect x="714.0" y="911.9" width="60.0" height="27.8" rx="4.5" fill="#fcfece"/>
<rect x="778.0" y="911.9" width="60.0" height="27.8" rx="4.5" fill="#fafdcb"/>
<rect x="842.0" y="911.9" width="60.0" height="27.8" rx="4.5" fill="#fcfece"/>
<rect x="905.9" y="911.9" width="60.0" height="27.8" rx="4.5" fill="#fcfece"/>
<rect x="969.9" y="911.9" width="60.0" height="27.8" rx="4.5" fill="#fcfece"/>
<rect x="1033.8" y="911.9" width="60.0" height="27.8" rx="4.5" fill="#fcfece"/>
<rect x="1097.8" y="911.9" width="60.0" height="27.8" rx="4.5" fill="#fcfece"/>
<rect x="1161.7" y="911.9" width="60.0" height="27.8" rx="4.5" fill="#fcfece"/>
<rect x="1225.7" y="911.9" width="60.0" height="27.8" rx="4.5" fill="#fcfece"/>
<rect x="1289.6" y="911.9" width="60.0" height="27.8" rx="4.5" fill="#fcfece"/>
<rect x="1353.6" y="911.9" width="60.0" height="27.8" rx="4.5" fill="#f7fbc6"/>
<rect x="1417.5" y="911.9" width="60.0" height="27.8" rx="4.5" fill="#f7fbc6"/>
<text class="gl" transform="translate(1493.5,925.74) scale(1,1.045)">COL10A1</text>
<rect x="266.4" y="942.7" width="60.0" height="27.8" rx="4.5" fill="#fcfece"/>
<rect x="330.3" y="942.7" width="60.0" height="27.8" rx="4.5" fill="#fcfece"/>
<rect x="394.3" y="942.7" width="60.0" height="27.8" rx="4.5" fill="#fcfece"/>
<rect x="458.2" y="942.7" width="60.0" height="27.8" rx="4.5" fill="#fcfece"/>
<rect x="522.2" y="942.7" width="60.0" height="27.8" rx="4.5" fill="#fcfece"/>
<rect x="586.1" y="942.7" width="60.0" height="27.8" rx="4.5" fill="#fcfece"/>
<rect x="650.1" y="942.7" width="60.0" height="27.8" rx="4.5" fill="#fcfece"/>
<rect x="714.0" y="942.7" width="60.0" height="27.8" rx="4.5" fill="#fcfece"/>
<rect x="778.0" y="942.7" width="60.0" height="27.8" rx="4.5" fill="#f9fcc9"/>
<rect x="842.0" y="942.7" width="60.0" height="27.8" rx="4.5" fill="#fafdcb"/>
<rect x="905.9" y="942.7" width="60.0" height="27.8" rx="4.5" fill="#f9fcc9"/>
<rect x="969.9" y="942.7" width="60.0" height="27.8" rx="4.5" fill="#fafdcb"/>
<rect x="1033.8" y="942.7" width="60.0" height="27.8" rx="4.5" fill="#fcfece"/>
<rect x="1097.8" y="942.7" width="60.0" height="27.8" rx="4.5" fill="#fcfece"/>
<rect x="1161.7" y="942.7" width="60.0" height="27.8" rx="4.5" fill="#fcfece"/>
<rect x="1225.7" y="942.7" width="60.0" height="27.8" rx="4.5" fill="#fcfece"/>
<rect x="1289.6" y="942.7" width="60.0" height="27.8" rx="4.5" fill="#fcfece"/>
<rect x="1353.6" y="942.7" width="60.0" height="27.8" rx="4.5" fill="#fafdcb"/>
<rect x="1417.5" y="942.7" width="60.0" height="27.8" rx="4.5" fill="#fafdcb"/>
<text class="gl" transform="translate(1493.5,956.43) scale(1,1.045)">SPINK9</text>
<rect x="266.4" y="973.4" width="60.0" height="27.8" rx="4.5" fill="#fcfece"/>
<rect x="330.3" y="973.4" width="60.0" height="27.8" rx="4.5" fill="#fcfece"/>
<rect x="394.3" y="973.4" width="60.0" height="27.8" rx="4.5" fill="#fcfece"/>
<rect x="458.2" y="973.4" width="60.0" height="27.8" rx="4.5" fill="#f7fbc6"/>
<rect x="522.2" y="973.4" width="60.0" height="27.8" rx="4.5" fill="#f7fbc6"/>
<rect x="586.1" y="973.4" width="60.0" height="27.8" rx="4.5" fill="#fcfece"/>
<rect x="650.1" y="973.4" width="60.0" height="27.8" rx="4.5" fill="#fcfece"/>
<rect x="714.0" y="973.4" width="60.0" height="27.8" rx="4.5" fill="#fcfece"/>
<rect x="778.0" y="973.4" width="60.0" height="27.8" rx="4.5" fill="#fcfece"/>
<rect x="842.0" y="973.4" width="60.0" height="27.8" rx="4.5" fill="#fcfece"/>
<rect x="905.9" y="973.4" width="60.0" height="27.8" rx="4.5" fill="#fcfece"/>
<rect x="969.9" y="973.4" width="60.0" height="27.8" rx="4.5" fill="#fcfece"/>
<rect x="1033.8" y="973.4" width="60.0" height="27.8" rx="4.5" fill="#fcfece"/>
<rect x="1097.8" y="973.4" width="60.0" height="27.8" rx="4.5" fill="#fcfece"/>
<rect x="1161.7" y="973.4" width="60.0" height="27.8" rx="4.5" fill="#fcfece"/>
<rect x="1225.7" y="973.4" width="60.0" height="27.8" rx="4.5" fill="#fcfece"/>
<rect x="1289.6" y="973.4" width="60.0" height="27.8" rx="4.5" fill="#fcfece"/>
<rect x="1353.6" y="973.4" width="60.0" height="27.8" rx="4.5" fill="#fcfece"/>
<rect x="1417.5" y="973.4" width="60.0" height="27.8" rx="4.5" fill="#fcfece"/>
<text class="gl" transform="translate(1493.5,987.12) scale(1,1.045)">ALPI</text>
<rect x="266.4" y="1004.2" width="60.0" height="27.8" rx="4.5" fill="#fcfece"/>
<rect x="330.3" y="1004.2" width="60.0" height="27.8" rx="4.5" fill="#fcfece"/>
<rect x="394.3" y="1004.2" width="60.0" height="27.8" rx="4.5" fill="#fcfece"/>
<rect x="458.2" y="1004.2" width="60.0" height="27.8" rx="4.5" fill="#fcfece"/>
<rect x="522.2" y="1004.2" width="60.0" height="27.8" rx="4.5" fill="#fcfece"/>
<rect x="586.1" y="1004.2" width="60.0" height="27.8" rx="4.5" fill="#fcfece"/>
<rect x="650.1" y="1004.2" width="60.0" height="27.8" rx="4.5" fill="#fcfece"/>
<rect x="714.0" y="1004.2" width="60.0" height="27.8" rx="4.5" fill="#fcfece"/>
<rect x="778.0" y="1004.2" width="60.0" height="27.8" rx="4.5" fill="#fcfece"/>
<rect x="842.0" y="1004.2" width="60.0" height="27.8" rx="4.5" fill="#fcfece"/>
<rect x="905.9" y="1004.2" width="60.0" height="27.8" rx="4.5" fill="#fcfece"/>
<rect x="969.9" y="1004.2" width="60.0" height="27.8" rx="4.5" fill="#fcfece"/>
<rect x="1033.8" y="1004.2" width="60.0" height="27.8" rx="4.5" fill="#fcfece"/>
<rect x="1097.8" y="1004.2" width="60.0" height="27.8" rx="4.5" fill="#fcfece"/>
<rect x="1161.7" y="1004.2" width="60.0" height="27.8" rx="4.5" fill="#fcfece"/>
<rect x="1225.7" y="1004.2" width="60.0" height="27.8" rx="4.5" fill="#fcfece"/>
<rect x="1289.6" y="1004.2" width="60.0" height="27.8" rx="4.5" fill="#fcfece"/>
<rect x="1353.6" y="1004.2" width="60.0" height="27.8" rx="4.5" fill="#fcfece"/>
<rect x="1417.5" y="1004.2" width="60.0" height="27.8" rx="4.5" fill="#fcfece"/>
<text class="gl" transform="translate(1493.5,1017.81) scale(1,1.045)">BAGE2</text>
<rect x="266.4" y="1034.9" width="60.0" height="27.8" rx="4.5" fill="#fcfece"/>
<rect x="330.3" y="1034.9" width="60.0" height="27.8" rx="4.5" fill="#fcfece"/>
<rect x="394.3" y="1034.9" width="60.0" height="27.8" rx="4.5" fill="#fcfece"/>
<rect x="458.2" y="1034.9" width="60.0" height="27.8" rx="4.5" fill="#fcfece"/>
<rect x="522.2" y="1034.9" width="60.0" height="27.8" rx="4.5" fill="#fcfece"/>
<rect x="586.1" y="1034.9" width="60.0" height="27.8" rx="4.5" fill="#fcfece"/>
<rect x="650.1" y="1034.9" width="60.0" height="27.8" rx="4.5" fill="#fcfece"/>
<rect x="714.0" y="1034.9" width="60.0" height="27.8" rx="4.5" fill="#fcfece"/>
<rect x="778.0" y="1034.9" width="60.0" height="27.8" rx="4.5" fill="#fcfece"/>
<rect x="842.0" y="1034.9" width="60.0" height="27.8" rx="4.5" fill="#fcfece"/>
<rect x="905.9" y="1034.9" width="60.0" height="27.8" rx="4.5" fill="#fcfece"/>
<rect x="969.9" y="1034.9" width="60.0" height="27.8" rx="4.5" fill="#fcfece"/>
<rect x="1033.8" y="1034.9" width="60.0" height="27.8" rx="4.5" fill="#fcfece"/>
<rect x="1097.8" y="1034.9" width="60.0" height="27.8" rx="4.5" fill="#fcfece"/>
<rect x="1161.7" y="1034.9" width="60.0" height="27.8" rx="4.5" fill="#fcfece"/>
<rect x="1225.7" y="1034.9" width="60.0" height="27.8" rx="4.5" fill="#fcfece"/>
<rect x="1289.6" y="1034.9" width="60.0" height="27.8" rx="4.5" fill="#fcfece"/>
<rect x="1353.6" y="1034.9" width="60.0" height="27.8" rx="4.5" fill="#fcfece"/>
<rect x="1417.5" y="1034.9" width="60.0" height="27.8" rx="4.5" fill="#fcfece"/>
<text class="gl" transform="translate(1493.5,1048.50) scale(1,1.045)">KERA</text>
<rect x="266.4" y="1065.6" width="60.0" height="27.8" rx="4.5" fill="#f2f9bf"/>
<rect x="330.3" y="1065.6" width="60.0" height="27.8" rx="4.5" fill="#f9fcc9"/>
<rect x="394.3" y="1065.6" width="60.0" height="27.8" rx="4.5" fill="#f5fac3"/>
<rect x="458.2" y="1065.6" width="60.0" height="27.8" rx="4.5" fill="#2286b6"/>
<rect x="522.2" y="1065.6" width="60.0" height="27.8" rx="4.5" fill="#2286b6"/>
<rect x="586.1" y="1065.6" width="60.0" height="27.8" rx="4.5" fill="#c7e9a4"/>
<rect x="650.1" y="1065.6" width="60.0" height="27.8" rx="4.5" fill="#afdfa6"/>
<rect x="714.0" y="1065.6" width="60.0" height="27.8" rx="4.5" fill="#96d5a9"/>
<rect x="778.0" y="1065.6" width="60.0" height="27.8" rx="4.5" fill="#f9fcc9"/>
<rect x="842.0" y="1065.6" width="60.0" height="27.8" rx="4.5" fill="#f9fcc9"/>
<rect x="905.9" y="1065.6" width="60.0" height="27.8" rx="4.5" fill="#f7fbc6"/>
<rect x="969.9" y="1065.6" width="60.0" height="27.8" rx="4.5" fill="#f7fbc6"/>
<rect x="1033.8" y="1065.6" width="60.0" height="27.8" rx="4.5" fill="#f7fbc6"/>
<rect x="1097.8" y="1065.6" width="60.0" height="27.8" rx="4.5" fill="#f9fcc9"/>
<rect x="1161.7" y="1065.6" width="60.0" height="27.8" rx="4.5" fill="#f9fcc9"/>
<rect x="1225.7" y="1065.6" width="60.0" height="27.8" rx="4.5" fill="#f9fcc9"/>
<rect x="1289.6" y="1065.6" width="60.0" height="27.8" rx="4.5" fill="#f9fcc9"/>
<rect x="1353.6" y="1065.6" width="60.0" height="27.8" rx="4.5" fill="#f9fcc9"/>
<rect x="1417.5" y="1065.6" width="60.0" height="27.8" rx="4.5" fill="#f7fbc6"/>
<text class="gl" transform="translate(1493.5,1079.19) scale(1,1.045)">GDF15</text>
<rect x="266.4" y="1096.4" width="60.0" height="27.8" rx="4.5" fill="#fafdcb"/>
<rect x="330.3" y="1096.4" width="60.0" height="27.8" rx="4.5" fill="#f7fbc6"/>
<rect x="394.3" y="1096.4" width="60.0" height="27.8" rx="4.5" fill="#e6f4ae"/>
<rect x="458.2" y="1096.4" width="60.0" height="27.8" rx="4.5" fill="#1f5da6"/>
<rect x="522.2" y="1096.4" width="60.0" height="27.8" rx="4.5" fill="#1f6ead"/>
<rect x="586.1" y="1096.4" width="60.0" height="27.8" rx="4.5" fill="#f5fac3"/>
<rect x="650.1" y="1096.4" width="60.0" height="27.8" rx="4.5" fill="#bde4a4"/>
<rect x="714.0" y="1096.4" width="60.0" height="27.8" rx="4.5" fill="#e2f2ab"/>
<rect x="778.0" y="1096.4" width="60.0" height="27.8" rx="4.5" fill="#c4e7a4"/>
<rect x="842.0" y="1096.4" width="60.0" height="27.8" rx="4.5" fill="#d2eca5"/>
<rect x="905.9" y="1096.4" width="60.0" height="27.8" rx="4.5" fill="#d5eea5"/>
<rect x="969.9" y="1096.4" width="60.0" height="27.8" rx="4.5" fill="#d2eca5"/>
<rect x="1033.8" y="1096.4" width="60.0" height="27.8" rx="4.5" fill="#91d3aa"/>
<rect x="1097.8" y="1096.4" width="60.0" height="27.8" rx="4.5" fill="#8bd1aa"/>
<rect x="1161.7" y="1096.4" width="60.0" height="27.8" rx="4.5" fill="#dcf0a6"/>
<rect x="1225.7" y="1096.4" width="60.0" height="27.8" rx="4.5" fill="#d5eea5"/>
<rect x="1289.6" y="1096.4" width="60.0" height="27.8" rx="4.5" fill="#c4e7a4"/>
<rect x="1353.6" y="1096.4" width="60.0" height="27.8" rx="4.5" fill="#abdda6"/>
<rect x="1417.5" y="1096.4" width="60.0" height="27.8" rx="4.5" fill="#b9e3a4"/>
<text class="gl" transform="translate(1493.5,1109.88) scale(1,1.045)">WFDC2</text>
<rect x="266.4" y="1127.1" width="60.0" height="27.8" rx="4.5" fill="#fafdcb"/>
<rect x="330.3" y="1127.1" width="60.0" height="27.8" rx="4.5" fill="#c4e7a4"/>
<rect x="394.3" y="1127.1" width="60.0" height="27.8" rx="4.5" fill="#60bfb3"/>
<rect x="458.2" y="1127.1" width="60.0" height="27.8" rx="4.5" fill="#8bd1aa"/>
<rect x="522.2" y="1127.1" width="60.0" height="27.8" rx="4.5" fill="#b9e3a4"/>
<rect x="586.1" y="1127.1" width="60.0" height="27.8" rx="4.5" fill="#91d3aa"/>
<rect x="650.1" y="1127.1" width="60.0" height="27.8" rx="4.5" fill="#3da9bd"/>
<rect x="714.0" y="1127.1" width="60.0" height="27.8" rx="4.5" fill="#4db4b9"/>
<rect x="778.0" y="1127.1" width="60.0" height="27.8" rx="4.5" fill="#7ccbad"/>
<rect x="842.0" y="1127.1" width="60.0" height="27.8" rx="4.5" fill="#86cfab"/>
<rect x="905.9" y="1127.1" width="60.0" height="27.8" rx="4.5" fill="#76c8ae"/>
<rect x="969.9" y="1127.1" width="60.0" height="27.8" rx="4.5" fill="#50b6b8"/>
<rect x="1033.8" y="1127.1" width="60.0" height="27.8" rx="4.5" fill="#68c2b1"/>
<rect x="1097.8" y="1127.1" width="60.0" height="27.8" rx="4.5" fill="#50b6b8"/>
<rect x="1161.7" y="1127.1" width="60.0" height="27.8" rx="4.5" fill="#9cd7a9"/>
<rect x="1225.7" y="1127.1" width="60.0" height="27.8" rx="4.5" fill="#76c8ae"/>
<rect x="1289.6" y="1127.1" width="60.0" height="27.8" rx="4.5" fill="#64c0b2"/>
<rect x="1353.6" y="1127.1" width="60.0" height="27.8" rx="4.5" fill="#68c2b1"/>
<rect x="1417.5" y="1127.1" width="60.0" height="27.8" rx="4.5" fill="#76c8ae"/>
<text class="gl" transform="translate(1493.5,1140.57) scale(1,1.045)">SPON1</text>
<rect x="266.4" y="1157.9" width="60.0" height="27.8" rx="4.5" fill="#c4e7a4"/>
<rect x="330.3" y="1157.9" width="60.0" height="27.8" rx="4.5" fill="#d9efa6"/>
<rect x="394.3" y="1157.9" width="60.0" height="27.8" rx="4.5" fill="#cbeaa4"/>
<rect x="458.2" y="1157.9" width="60.0" height="27.8" rx="4.5" fill="#81cdac"/>
<rect x="522.2" y="1157.9" width="60.0" height="27.8" rx="4.5" fill="#8bd1aa"/>
<rect x="586.1" y="1157.9" width="60.0" height="27.8" rx="4.5" fill="#49b1bb"/>
<rect x="650.1" y="1157.9" width="60.0" height="27.8" rx="4.5" fill="#91d3aa"/>
<rect x="714.0" y="1157.9" width="60.0" height="27.8" rx="4.5" fill="#8bd1aa"/>
<rect x="778.0" y="1157.9" width="60.0" height="27.8" rx="4.5" fill="#81cdac"/>
<rect x="842.0" y="1157.9" width="60.0" height="27.8" rx="4.5" fill="#8bd1aa"/>
<rect x="905.9" y="1157.9" width="60.0" height="27.8" rx="4.5" fill="#c7e9a4"/>
<rect x="969.9" y="1157.9" width="60.0" height="27.8" rx="4.5" fill="#d2eca5"/>
<rect x="1033.8" y="1157.9" width="60.0" height="27.8" rx="4.5" fill="#d9efa6"/>
<rect x="1097.8" y="1157.9" width="60.0" height="27.8" rx="4.5" fill="#d2eca5"/>
<rect x="1161.7" y="1157.9" width="60.0" height="27.8" rx="4.5" fill="#d5eea5"/>
<rect x="1225.7" y="1157.9" width="60.0" height="27.8" rx="4.5" fill="#d5eea5"/>
<rect x="1289.6" y="1157.9" width="60.0" height="27.8" rx="4.5" fill="#d5eea5"/>
<rect x="1353.6" y="1157.9" width="60.0" height="27.8" rx="4.5" fill="#d5eea5"/>
<rect x="1417.5" y="1157.9" width="60.0" height="27.8" rx="4.5" fill="#c4e7a4"/>
<text class="gl" transform="translate(1493.5,1171.26) scale(1,1.045)">IL18BP</text>
<rect x="266.4" y="1188.6" width="60.0" height="27.8" rx="4.5" fill="#afdfa6"/>
<rect x="330.3" y="1188.6" width="60.0" height="27.8" rx="4.5" fill="#cbeaa4"/>
<rect x="394.3" y="1188.6" width="60.0" height="27.8" rx="4.5" fill="#c0e6a4"/>
<rect x="458.2" y="1188.6" width="60.0" height="27.8" rx="4.5" fill="#afdfa6"/>
<rect x="522.2" y="1188.6" width="60.0" height="27.8" rx="4.5" fill="#abdda6"/>
<rect x="586.1" y="1188.6" width="60.0" height="27.8" rx="4.5" fill="#7ccbad"/>
<rect x="650.1" y="1188.6" width="60.0" height="27.8" rx="4.5" fill="#91d3aa"/>
<rect x="714.0" y="1188.6" width="60.0" height="27.8" rx="4.5" fill="#7ccbad"/>
<rect x="778.0" y="1188.6" width="60.0" height="27.8" rx="4.5" fill="#8bd1aa"/>
<rect x="842.0" y="1188.6" width="60.0" height="27.8" rx="4.5" fill="#7ccbad"/>
<rect x="905.9" y="1188.6" width="60.0" height="27.8" rx="4.5" fill="#a1d9a8"/>
<rect x="969.9" y="1188.6" width="60.0" height="27.8" rx="4.5" fill="#abdda6"/>
<rect x="1033.8" y="1188.6" width="60.0" height="27.8" rx="4.5" fill="#b9e3a4"/>
<rect x="1097.8" y="1188.6" width="60.0" height="27.8" rx="4.5" fill="#abdda6"/>
<rect x="1161.7" y="1188.6" width="60.0" height="27.8" rx="4.5" fill="#abdda6"/>
<rect x="1225.7" y="1188.6" width="60.0" height="27.8" rx="4.5" fill="#a6dba7"/>
<rect x="1289.6" y="1188.6" width="60.0" height="27.8" rx="4.5" fill="#a1d9a8"/>
<rect x="1353.6" y="1188.6" width="60.0" height="27.8" rx="4.5" fill="#8bd1aa"/>
<rect x="1417.5" y="1188.6" width="60.0" height="27.8" rx="4.5" fill="#abdda6"/>
<text class="gl" transform="translate(1493.5,1201.95) scale(1,1.045)">STX7</text>
<rect x="266.4" y="1219.3" width="60.0" height="27.8" rx="4.5" fill="#e9f5b2"/>
<rect x="330.3" y="1219.3" width="60.0" height="27.8" rx="4.5" fill="#d5eea5"/>
<rect x="394.3" y="1219.3" width="60.0" height="27.8" rx="4.5" fill="#c4e7a4"/>
<rect x="458.2" y="1219.3" width="60.0" height="27.8" rx="4.5" fill="#d9efa6"/>
<rect x="522.2" y="1219.3" width="60.0" height="27.8" rx="4.5" fill="#e4f3ac"/>
<rect x="586.1" y="1219.3" width="60.0" height="27.8" rx="4.5" fill="#afdfa6"/>
<rect x="650.1" y="1219.3" width="60.0" height="27.8" rx="4.5" fill="#ceeba4"/>
<rect x="714.0" y="1219.3" width="60.0" height="27.8" rx="4.5" fill="#d9efa6"/>
<rect x="778.0" y="1219.3" width="60.0" height="27.8" rx="4.5" fill="#8bd1aa"/>
<rect x="842.0" y="1219.3" width="60.0" height="27.8" rx="4.5" fill="#8bd1aa"/>
<rect x="905.9" y="1219.3" width="60.0" height="27.8" rx="4.5" fill="#86cfab"/>
<rect x="969.9" y="1219.3" width="60.0" height="27.8" rx="4.5" fill="#9cd7a9"/>
<rect x="1033.8" y="1219.3" width="60.0" height="27.8" rx="4.5" fill="#96d5a9"/>
<rect x="1097.8" y="1219.3" width="60.0" height="27.8" rx="4.5" fill="#8bd1aa"/>
<rect x="1161.7" y="1219.3" width="60.0" height="27.8" rx="4.5" fill="#96d5a9"/>
<rect x="1225.7" y="1219.3" width="60.0" height="27.8" rx="4.5" fill="#8bd1aa"/>
<rect x="1289.6" y="1219.3" width="60.0" height="27.8" rx="4.5" fill="#96d5a9"/>
<rect x="1353.6" y="1219.3" width="60.0" height="27.8" rx="4.5" fill="#91d3aa"/>
<rect x="1417.5" y="1219.3" width="60.0" height="27.8" rx="4.5" fill="#96d5a9"/>
<text class="gl" transform="translate(1493.5,1232.64) scale(1,1.045)">GDF11</text>
<rect x="266.4" y="1250.1" width="60.0" height="27.8" rx="4.5" fill="#f2f9bf"/>
<rect x="330.3" y="1250.1" width="60.0" height="27.8" rx="4.5" fill="#f5fac3"/>
<rect x="394.3" y="1250.1" width="60.0" height="27.8" rx="4.5" fill="#e4f3ac"/>
<rect x="458.2" y="1250.1" width="60.0" height="27.8" rx="4.5" fill="#96d5a9"/>
<rect x="522.2" y="1250.1" width="60.0" height="27.8" rx="4.5" fill="#d9efa6"/>
<rect x="586.1" y="1250.1" width="60.0" height="27.8" rx="4.5" fill="#c7e9a4"/>
<rect x="650.1" y="1250.1" width="60.0" height="27.8" rx="4.5" fill="#ceeba4"/>
<rect x="714.0" y="1250.1" width="60.0" height="27.8" rx="4.5" fill="#c4e7a4"/>
<rect x="778.0" y="1250.1" width="60.0" height="27.8" rx="4.5" fill="#6cc4b0"/>
<rect x="842.0" y="1250.1" width="60.0" height="27.8" rx="4.5" fill="#7ccbad"/>
<rect x="905.9" y="1250.1" width="60.0" height="27.8" rx="4.5" fill="#abdda6"/>
<rect x="969.9" y="1250.1" width="60.0" height="27.8" rx="4.5" fill="#a1d9a8"/>
<rect x="1033.8" y="1250.1" width="60.0" height="27.8" rx="4.5" fill="#a6dba7"/>
<rect x="1097.8" y="1250.1" width="60.0" height="27.8" rx="4.5" fill="#9cd7a9"/>
<rect x="1161.7" y="1250.1" width="60.0" height="27.8" rx="4.5" fill="#b4e1a5"/>
<rect x="1225.7" y="1250.1" width="60.0" height="27.8" rx="4.5" fill="#abdda6"/>
<rect x="1289.6" y="1250.1" width="60.0" height="27.8" rx="4.5" fill="#b4e1a5"/>
<rect x="1353.6" y="1250.1" width="60.0" height="27.8" rx="4.5" fill="#bde4a4"/>
<rect x="1417.5" y="1250.1" width="60.0" height="27.8" rx="4.5" fill="#c4e7a4"/>
<text class="gl" transform="translate(1493.5,1263.33) scale(1,1.045)">C1QTNF3</text>
<rect x="266.4" y="1280.8" width="60.0" height="27.8" rx="4.5" fill="#f5fac3"/>
<rect x="330.3" y="1280.8" width="60.0" height="27.8" rx="4.5" fill="#64c0b2"/>
<rect x="394.3" y="1280.8" width="60.0" height="27.8" rx="4.5" fill="#268eb9"/>
<rect x="458.2" y="1280.8" width="60.0" height="27.8" rx="4.5" fill="#41acbd"/>
<rect x="522.2" y="1280.8" width="60.0" height="27.8" rx="4.5" fill="#4db4b9"/>
<rect x="586.1" y="1280.8" width="60.0" height="27.8" rx="4.5" fill="#2286b6"/>
<rect x="650.1" y="1280.8" width="60.0" height="27.8" rx="4.5" fill="#217fb3"/>
<rect x="714.0" y="1280.8" width="60.0" height="27.8" rx="4.5" fill="#2286b6"/>
<rect x="778.0" y="1280.8" width="60.0" height="27.8" rx="4.5" fill="#f5fac3"/>
<rect x="842.0" y="1280.8" width="60.0" height="27.8" rx="4.5" fill="#eff8bb"/>
<rect x="905.9" y="1280.8" width="60.0" height="27.8" rx="4.5" fill="#abdda6"/>
<rect x="969.9" y="1280.8" width="60.0" height="27.8" rx="4.5" fill="#86cfab"/>
<rect x="1033.8" y="1280.8" width="60.0" height="27.8" rx="4.5" fill="#abdda6"/>
<rect x="1097.8" y="1280.8" width="60.0" height="27.8" rx="4.5" fill="#96d5a9"/>
<rect x="1161.7" y="1280.8" width="60.0" height="27.8" rx="4.5" fill="#c0e6a4"/>
<rect x="1225.7" y="1280.8" width="60.0" height="27.8" rx="4.5" fill="#abdda6"/>
<rect x="1289.6" y="1280.8" width="60.0" height="27.8" rx="4.5" fill="#c0e6a4"/>
<rect x="1353.6" y="1280.8" width="60.0" height="27.8" rx="4.5" fill="#c0e6a4"/>
<rect x="1417.5" y="1280.8" width="60.0" height="27.8" rx="4.5" fill="#c4e7a4"/>
<text class="gl" transform="translate(1493.5,1294.02) scale(1,1.045)">FBLN5</text>
<rect x="266.4" y="1311.6" width="60.0" height="27.8" rx="4.5" fill="#9cd7a9"/>
<rect x="330.3" y="1311.6" width="60.0" height="27.8" rx="4.5" fill="#f5fac3"/>
<rect x="394.3" y="1311.6" width="60.0" height="27.8" rx="4.5" fill="#e0f2a9"/>
<rect x="458.2" y="1311.6" width="60.0" height="27.8" rx="4.5" fill="#60bfb3"/>
<rect x="522.2" y="1311.6" width="60.0" height="27.8" rx="4.5" fill="#58bbb5"/>
<rect x="586.1" y="1311.6" width="60.0" height="27.8" rx="4.5" fill="#39a6be"/>
<rect x="650.1" y="1311.6" width="60.0" height="27.8" rx="4.5" fill="#58bbb5"/>
<rect x="714.0" y="1311.6" width="60.0" height="27.8" rx="4.5" fill="#9cd7a9"/>
<rect x="778.0" y="1311.6" width="60.0" height="27.8" rx="4.5" fill="#f5fac3"/>
<rect x="842.0" y="1311.6" width="60.0" height="27.8" rx="4.5" fill="#eff8bb"/>
<rect x="905.9" y="1311.6" width="60.0" height="27.8" rx="4.5" fill="#c4e7a4"/>
<rect x="969.9" y="1311.6" width="60.0" height="27.8" rx="4.5" fill="#e2f2ab"/>
<rect x="1033.8" y="1311.6" width="60.0" height="27.8" rx="4.5" fill="#e4f3ac"/>
<rect x="1097.8" y="1311.6" width="60.0" height="27.8" rx="4.5" fill="#e0f2a9"/>
<rect x="1161.7" y="1311.6" width="60.0" height="27.8" rx="4.5" fill="#d2eca5"/>
<rect x="1225.7" y="1311.6" width="60.0" height="27.8" rx="4.5" fill="#d9efa6"/>
<rect x="1289.6" y="1311.6" width="60.0" height="27.8" rx="4.5" fill="#e4f3ac"/>
<rect x="1353.6" y="1311.6" width="60.0" height="27.8" rx="4.5" fill="#e9f5b2"/>
<rect x="1417.5" y="1311.6" width="60.0" height="27.8" rx="4.5" fill="#e9f5b2"/>
<text class="gl" transform="translate(1493.5,1324.71) scale(1,1.045)">IL18</text>
<rect x="266.4" y="1342.3" width="60.0" height="27.8" rx="4.5" fill="#fafdcb"/>
<rect x="330.3" y="1342.3" width="60.0" height="27.8" rx="4.5" fill="#81cdac"/>
<rect x="394.3" y="1342.3" width="60.0" height="27.8" rx="4.5" fill="#35a3be"/>
<rect x="458.2" y="1342.3" width="60.0" height="27.8" rx="4.5" fill="#60bfb3"/>
<rect x="522.2" y="1342.3" width="60.0" height="27.8" rx="4.5" fill="#68c2b1"/>
<rect x="586.1" y="1342.3" width="60.0" height="27.8" rx="4.5" fill="#bde4a4"/>
<rect x="650.1" y="1342.3" width="60.0" height="27.8" rx="4.5" fill="#5cbdb4"/>
<rect x="714.0" y="1342.3" width="60.0" height="27.8" rx="4.5" fill="#86cfab"/>
<rect x="778.0" y="1342.3" width="60.0" height="27.8" rx="4.5" fill="#e6f4ae"/>
<rect x="842.0" y="1342.3" width="60.0" height="27.8" rx="4.5" fill="#e6f4ae"/>
<rect x="905.9" y="1342.3" width="60.0" height="27.8" rx="4.5" fill="#68c2b1"/>
<rect x="969.9" y="1342.3" width="60.0" height="27.8" rx="4.5" fill="#c7e9a4"/>
<rect x="1033.8" y="1342.3" width="60.0" height="27.8" rx="4.5" fill="#c0e6a4"/>
<rect x="1097.8" y="1342.3" width="60.0" height="27.8" rx="4.5" fill="#a6dba7"/>
<rect x="1161.7" y="1342.3" width="60.0" height="27.8" rx="4.5" fill="#9cd7a9"/>
<rect x="1225.7" y="1342.3" width="60.0" height="27.8" rx="4.5" fill="#c7e9a4"/>
<rect x="1289.6" y="1342.3" width="60.0" height="27.8" rx="4.5" fill="#dcf0a6"/>
<rect x="1353.6" y="1342.3" width="60.0" height="27.8" rx="4.5" fill="#dcf0a6"/>
<rect x="1417.5" y="1342.3" width="60.0" height="27.8" rx="4.5" fill="#def1a8"/>
<text class="gl" transform="translate(1493.5,1355.40) scale(1,1.045)">SERPINA3</text>
<rect x="266.4" y="1373.0" width="60.0" height="27.8" rx="4.5" fill="#fafdcb"/>
<rect x="330.3" y="1373.0" width="60.0" height="27.8" rx="4.5" fill="#a6dba7"/>
<rect x="394.3" y="1373.0" width="60.0" height="27.8" rx="4.5" fill="#8bd1aa"/>
<rect x="458.2" y="1373.0" width="60.0" height="27.8" rx="4.5" fill="#68c2b1"/>
<rect x="522.2" y="1373.0" width="60.0" height="27.8" rx="4.5" fill="#91d3aa"/>
<rect x="586.1" y="1373.0" width="60.0" height="27.8" rx="4.5" fill="#96d5a9"/>
<rect x="650.1" y="1373.0" width="60.0" height="27.8" rx="4.5" fill="#50b6b8"/>
<rect x="714.0" y="1373.0" width="60.0" height="27.8" rx="4.5" fill="#60bfb3"/>
<rect x="778.0" y="1373.0" width="60.0" height="27.8" rx="4.5" fill="#e4f3ac"/>
<rect x="842.0" y="1373.0" width="60.0" height="27.8" rx="4.5" fill="#e6f4ae"/>
<rect x="905.9" y="1373.0" width="60.0" height="27.8" rx="4.5" fill="#e0f2a9"/>
<rect x="969.9" y="1373.0" width="60.0" height="27.8" rx="4.5" fill="#e4f3ac"/>
<rect x="1033.8" y="1373.0" width="60.0" height="27.8" rx="4.5" fill="#e2f2ab"/>
<rect x="1097.8" y="1373.0" width="60.0" height="27.8" rx="4.5" fill="#e2f2ab"/>
<rect x="1161.7" y="1373.0" width="60.0" height="27.8" rx="4.5" fill="#e4f3ac"/>
<rect x="1225.7" y="1373.0" width="60.0" height="27.8" rx="4.5" fill="#e4f3ac"/>
<rect x="1289.6" y="1373.0" width="60.0" height="27.8" rx="4.5" fill="#e2f2ab"/>
<rect x="1353.6" y="1373.0" width="60.0" height="27.8" rx="4.5" fill="#e2f2ab"/>
<rect x="1417.5" y="1373.0" width="60.0" height="27.8" rx="4.5" fill="#e0f2a9"/>
<text class="gl" transform="translate(1493.5,1386.09) scale(1,1.045)">EPHA2</text>
<rect x="266.4" y="1403.8" width="60.0" height="27.8" rx="4.5" fill="#fafdcb"/>
<rect x="330.3" y="1403.8" width="60.0" height="27.8" rx="4.5" fill="#eff8bb"/>
<rect x="394.3" y="1403.8" width="60.0" height="27.8" rx="4.5" fill="#e2f2ab"/>
<rect x="458.2" y="1403.8" width="60.0" height="27.8" rx="4.5" fill="#c4e7a4"/>
<rect x="522.2" y="1403.8" width="60.0" height="27.8" rx="4.5" fill="#f5fac3"/>
<rect x="586.1" y="1403.8" width="60.0" height="27.8" rx="4.5" fill="#f5fac3"/>
<rect x="650.1" y="1403.8" width="60.0" height="27.8" rx="4.5" fill="#91d3aa"/>
<rect x="714.0" y="1403.8" width="60.0" height="27.8" rx="4.5" fill="#8bd1aa"/>
<rect x="778.0" y="1403.8" width="60.0" height="27.8" rx="4.5" fill="#ecf6b6"/>
<rect x="842.0" y="1403.8" width="60.0" height="27.8" rx="4.5" fill="#ecf6b6"/>
<rect x="905.9" y="1403.8" width="60.0" height="27.8" rx="4.5" fill="#def1a8"/>
<rect x="969.9" y="1403.8" width="60.0" height="27.8" rx="4.5" fill="#eff8bb"/>
<rect x="1033.8" y="1403.8" width="60.0" height="27.8" rx="4.5" fill="#e2f2ab"/>
<rect x="1097.8" y="1403.8" width="60.0" height="27.8" rx="4.5" fill="#e4f3ac"/>
<rect x="1161.7" y="1403.8" width="60.0" height="27.8" rx="4.5" fill="#e2f2ab"/>
<rect x="1225.7" y="1403.8" width="60.0" height="27.8" rx="4.5" fill="#eff8bb"/>
<rect x="1289.6" y="1403.8" width="60.0" height="27.8" rx="4.5" fill="#f2f9bf"/>
<rect x="1353.6" y="1403.8" width="60.0" height="27.8" rx="4.5" fill="#ecf6b6"/>
<rect x="1417.5" y="1403.8" width="60.0" height="27.8" rx="4.5" fill="#f2f9bf"/>
<text class="gl" transform="translate(1493.5,1416.78) scale(1,1.045)">ANGPT2</text>
<rect x="266.4" y="1434.5" width="60.0" height="27.8" rx="4.5" fill="#fafdcb"/>
<rect x="330.3" y="1434.5" width="60.0" height="27.8" rx="4.5" fill="#eff8bb"/>
<rect x="394.3" y="1434.5" width="60.0" height="27.8" rx="4.5" fill="#e6f4ae"/>
<rect x="458.2" y="1434.5" width="60.0" height="27.8" rx="4.5" fill="#c7e9a4"/>
<rect x="522.2" y="1434.5" width="60.0" height="27.8" rx="4.5" fill="#e6f4ae"/>
<rect x="586.1" y="1434.5" width="60.0" height="27.8" rx="4.5" fill="#f5fac3"/>
<rect x="650.1" y="1434.5" width="60.0" height="27.8" rx="4.5" fill="#c0e6a4"/>
<rect x="714.0" y="1434.5" width="60.0" height="27.8" rx="4.5" fill="#b4e1a5"/>
<rect x="778.0" y="1434.5" width="60.0" height="27.8" rx="4.5" fill="#f7fbc6"/>
<rect x="842.0" y="1434.5" width="60.0" height="27.8" rx="4.5" fill="#f9fcc9"/>
<rect x="905.9" y="1434.5" width="60.0" height="27.8" rx="4.5" fill="#f9fcc9"/>
<rect x="969.9" y="1434.5" width="60.0" height="27.8" rx="4.5" fill="#f9fcc9"/>
<rect x="1033.8" y="1434.5" width="60.0" height="27.8" rx="4.5" fill="#f7fbc6"/>
<rect x="1097.8" y="1434.5" width="60.0" height="27.8" rx="4.5" fill="#f7fbc6"/>
<rect x="1161.7" y="1434.5" width="60.0" height="27.8" rx="4.5" fill="#e6f4ae"/>
<rect x="1225.7" y="1434.5" width="60.0" height="27.8" rx="4.5" fill="#eff8bb"/>
<rect x="1289.6" y="1434.5" width="60.0" height="27.8" rx="4.5" fill="#d5eea5"/>
<rect x="1353.6" y="1434.5" width="60.0" height="27.8" rx="4.5" fill="#ceeba4"/>
<rect x="1417.5" y="1434.5" width="60.0" height="27.8" rx="4.5" fill="#c7e9a4"/>
<text class="gl" transform="translate(1493.5,1447.47) scale(1,1.045)">YBX2</text>
<rect x="266.4" y="1465.3" width="60.0" height="27.8" rx="4.5" fill="#fafdcb"/>
<rect x="330.3" y="1465.3" width="60.0" height="27.8" rx="4.5" fill="#e6f4ae"/>
<rect x="394.3" y="1465.3" width="60.0" height="27.8" rx="4.5" fill="#c7e9a4"/>
<rect x="458.2" y="1465.3" width="60.0" height="27.8" rx="4.5" fill="#dcf0a6"/>
<rect x="522.2" y="1465.3" width="60.0" height="27.8" rx="4.5" fill="#dcf0a6"/>
<rect x="586.1" y="1465.3" width="60.0" height="27.8" rx="4.5" fill="#b4e1a5"/>
<rect x="650.1" y="1465.3" width="60.0" height="27.8" rx="4.5" fill="#35a3be"/>
<rect x="714.0" y="1465.3" width="60.0" height="27.8" rx="4.5" fill="#35a3be"/>
<rect x="778.0" y="1465.3" width="60.0" height="27.8" rx="4.5" fill="#91d3aa"/>
<rect x="842.0" y="1465.3" width="60.0" height="27.8" rx="4.5" fill="#91d3aa"/>
<rect x="905.9" y="1465.3" width="60.0" height="27.8" rx="4.5" fill="#f9fcc9"/>
<rect x="969.9" y="1465.3" width="60.0" height="27.8" rx="4.5" fill="#fafdcb"/>
<rect x="1033.8" y="1465.3" width="60.0" height="27.8" rx="4.5" fill="#e9f5b2"/>
<rect x="1097.8" y="1465.3" width="60.0" height="27.8" rx="4.5" fill="#f2f9bf"/>
<rect x="1161.7" y="1465.3" width="60.0" height="27.8" rx="4.5" fill="#f2f9bf"/>
<rect x="1225.7" y="1465.3" width="60.0" height="27.8" rx="4.5" fill="#f7fbc6"/>
<rect x="1289.6" y="1465.3" width="60.0" height="27.8" rx="4.5" fill="#f7fbc6"/>
<rect x="1353.6" y="1465.3" width="60.0" height="27.8" rx="4.5" fill="#f7fbc6"/>
<rect x="1417.5" y="1465.3" width="60.0" height="27.8" rx="4.5" fill="#f5fac3"/>
<text class="gl" transform="translate(1493.5,1478.16) scale(1,1.045)">SVEP1</text>
<rect x="266.4" y="1496.0" width="60.0" height="27.8" rx="4.5" fill="#a6dba7"/>
<rect x="330.3" y="1496.0" width="60.0" height="27.8" rx="4.5" fill="#b4e1a5"/>
<rect x="394.3" y="1496.0" width="60.0" height="27.8" rx="4.5" fill="#abdda6"/>
<rect x="458.2" y="1496.0" width="60.0" height="27.8" rx="4.5" fill="#c4e7a4"/>
<rect x="522.2" y="1496.0" width="60.0" height="27.8" rx="4.5" fill="#dcf0a6"/>
<rect x="586.1" y="1496.0" width="60.0" height="27.8" rx="4.5" fill="#a6dba7"/>
<rect x="650.1" y="1496.0" width="60.0" height="27.8" rx="4.5" fill="#58bbb5"/>
<rect x="714.0" y="1496.0" width="60.0" height="27.8" rx="4.5" fill="#45afbc"/>
<rect x="778.0" y="1496.0" width="60.0" height="27.8" rx="4.5" fill="#f5fac3"/>
<rect x="842.0" y="1496.0" width="60.0" height="27.8" rx="4.5" fill="#f9fcc9"/>
<rect x="905.9" y="1496.0" width="60.0" height="27.8" rx="4.5" fill="#e9f5b2"/>
<rect x="969.9" y="1496.0" width="60.0" height="27.8" rx="4.5" fill="#eff8bb"/>
<rect x="1033.8" y="1496.0" width="60.0" height="27.8" rx="4.5" fill="#e9f5b2"/>
<rect x="1097.8" y="1496.0" width="60.0" height="27.8" rx="4.5" fill="#e2f2ab"/>
<rect x="1161.7" y="1496.0" width="60.0" height="27.8" rx="4.5" fill="#eff8bb"/>
<rect x="1225.7" y="1496.0" width="60.0" height="27.8" rx="4.5" fill="#e6f4ae"/>
<rect x="1289.6" y="1496.0" width="60.0" height="27.8" rx="4.5" fill="#f2f9bf"/>
<rect x="1353.6" y="1496.0" width="60.0" height="27.8" rx="4.5" fill="#f2f9bf"/>
<rect x="1417.5" y="1496.0" width="60.0" height="27.8" rx="4.5" fill="#f2f9bf"/>
<text class="gl" transform="translate(1493.5,1508.85) scale(1,1.045)">ANTXR2</text>
<rect x="266.4" y="1526.7" width="60.0" height="27.8" rx="4.5" fill="#fafdcb"/>
<rect x="330.3" y="1526.7" width="60.0" height="27.8" rx="4.5" fill="#cbeaa4"/>
<rect x="394.3" y="1526.7" width="60.0" height="27.8" rx="4.5" fill="#64c0b2"/>
<rect x="458.2" y="1526.7" width="60.0" height="27.8" rx="4.5" fill="#dcf0a6"/>
<rect x="522.2" y="1526.7" width="60.0" height="27.8" rx="4.5" fill="#dcf0a6"/>
<rect x="586.1" y="1526.7" width="60.0" height="27.8" rx="4.5" fill="#d5eea5"/>
<rect x="650.1" y="1526.7" width="60.0" height="27.8" rx="4.5" fill="#8bd1aa"/>
<rect x="714.0" y="1526.7" width="60.0" height="27.8" rx="4.5" fill="#64c0b2"/>
<rect x="778.0" y="1526.7" width="60.0" height="27.8" rx="4.5" fill="#e6f4ae"/>
<rect x="842.0" y="1526.7" width="60.0" height="27.8" rx="4.5" fill="#e2f2ab"/>
<rect x="905.9" y="1526.7" width="60.0" height="27.8" rx="4.5" fill="#e9f5b2"/>
<rect x="969.9" y="1526.7" width="60.0" height="27.8" rx="4.5" fill="#f2f9bf"/>
<rect x="1033.8" y="1526.7" width="60.0" height="27.8" rx="4.5" fill="#e6f4ae"/>
<rect x="1097.8" y="1526.7" width="60.0" height="27.8" rx="4.5" fill="#e9f5b2"/>
<rect x="1161.7" y="1526.7" width="60.0" height="27.8" rx="4.5" fill="#f2f9bf"/>
<rect x="1225.7" y="1526.7" width="60.0" height="27.8" rx="4.5" fill="#f5fac3"/>
<rect x="1289.6" y="1526.7" width="60.0" height="27.8" rx="4.5" fill="#f5fac3"/>
<rect x="1353.6" y="1526.7" width="60.0" height="27.8" rx="4.5" fill="#eff8bb"/>
<rect x="1417.5" y="1526.7" width="60.0" height="27.8" rx="4.5" fill="#f5fac3"/>
<text class="gl" transform="translate(1493.5,1539.54) scale(1,1.045)">F10</text>
<rect x="266.4" y="1557.5" width="60.0" height="27.8" rx="4.5" fill="#fafdcb"/>
<rect x="330.3" y="1557.5" width="60.0" height="27.8" rx="4.5" fill="#dcf0a6"/>
<rect x="394.3" y="1557.5" width="60.0" height="27.8" rx="4.5" fill="#c4e7a4"/>
<rect x="458.2" y="1557.5" width="60.0" height="27.8" rx="4.5" fill="#dcf0a6"/>
<rect x="522.2" y="1557.5" width="60.0" height="27.8" rx="4.5" fill="#d9efa6"/>
<rect x="586.1" y="1557.5" width="60.0" height="27.8" rx="4.5" fill="#d5eea5"/>
<rect x="650.1" y="1557.5" width="60.0" height="27.8" rx="4.5" fill="#45afbc"/>
<rect x="714.0" y="1557.5" width="60.0" height="27.8" rx="4.5" fill="#39a6be"/>
<rect x="778.0" y="1557.5" width="60.0" height="27.8" rx="4.5" fill="#f7fbc6"/>
<rect x="842.0" y="1557.5" width="60.0" height="27.8" rx="4.5" fill="#f9fcc9"/>
<rect x="905.9" y="1557.5" width="60.0" height="27.8" rx="4.5" fill="#e4f3ac"/>
<rect x="969.9" y="1557.5" width="60.0" height="27.8" rx="4.5" fill="#f2f9bf"/>
<rect x="1033.8" y="1557.5" width="60.0" height="27.8" rx="4.5" fill="#f5fac3"/>
<rect x="1097.8" y="1557.5" width="60.0" height="27.8" rx="4.5" fill="#f5fac3"/>
<rect x="1161.7" y="1557.5" width="60.0" height="27.8" rx="4.5" fill="#f7fbc6"/>
<rect x="1225.7" y="1557.5" width="60.0" height="27.8" rx="4.5" fill="#f7fbc6"/>
<rect x="1289.6" y="1557.5" width="60.0" height="27.8" rx="4.5" fill="#f5fac3"/>
<rect x="1353.6" y="1557.5" width="60.0" height="27.8" rx="4.5" fill="#f5fac3"/>
<rect x="1417.5" y="1557.5" width="60.0" height="27.8" rx="4.5" fill="#f5fac3"/>
<text class="gl" transform="translate(1493.5,1570.23) scale(1,1.045)">GHR</text>
<text class="cl" transform="translate(279.4,1645.5) rotate(30) scale(1,1.045)">Whole Blood</text>
<text class="cl" transform="translate(343.3,1645.5) rotate(30) scale(1,1.045)">Heart - Left Ventricle</text>
<text class="cl" transform="translate(407.3,1645.5) rotate(30) scale(1,1.045)">Heart - Atrial Appendage</text>
<text class="cl" transform="translate(471.2,1645.5) rotate(30) scale(1,1.045)">Kidney - Medulla</text>
<text class="cl" transform="translate(535.2,1645.5) rotate(30) scale(1,1.045)">Kidney - Cortex</text>
<text class="cl" transform="translate(599.1,1645.5) rotate(30) scale(1,1.045)">Spleen</text>
<text class="cl" transform="translate(663.1,1645.5) rotate(30) scale(1,1.045)">Adipose - Visceral (Omentum)</text>
<text class="cl" transform="translate(727.0,1645.5) rotate(30) scale(1,1.045)">Adipose - Subcutaneous</text>
<text class="cl" transform="translate(791.0,1645.5) rotate(30) scale(1,1.045)">Brain - Cerebellum</text>
<text class="cl" transform="translate(855.0,1645.5) rotate(30) scale(1,1.045)">Brain - Cerebellar Hemisphere</text>
<text class="cl" transform="translate(918.9,1645.5) rotate(30) scale(1,1.045)">Brain - Hypothalamus</text>
<text class="cl" transform="translate(982.9,1645.5) rotate(30) scale(1,1.045)">Brain - Nucleus accumbens (basal ganglia)</text>
<text class="cl" transform="translate(1046.8,1645.5) rotate(30) scale(1,1.045)">Brain - Putamen (basal ganglia)</text>
<text class="cl" transform="translate(1110.8,1645.5) rotate(30) scale(1,1.045)">Brain - Caudate (basal ganglia)</text>
<text class="cl" transform="translate(1174.7,1645.5) rotate(30) scale(1,1.045)">Brain - Hippocampus</text>
<text class="cl" transform="translate(1238.7,1645.5) rotate(30) scale(1,1.045)">Brain - Amygdala</text>
<text class="cl" transform="translate(1302.6,1645.5) rotate(30) scale(1,1.045)">Brain - Anterior cingulate cortex (BA24)</text>
<text class="cl" transform="translate(1366.6,1645.5) rotate(30) scale(1,1.045)">Brain - Frontal Cortex (BA9)</text>
<text class="cl" transform="translate(1430.5,1645.5) rotate(30) scale(1,1.045)">Brain - Cortex</text>
</svg></div></body></html>
